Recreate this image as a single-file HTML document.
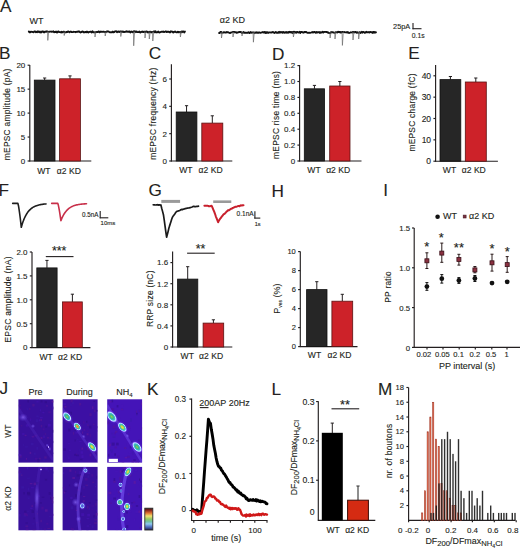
<!DOCTYPE html>
<html><head><meta charset="utf-8"><style>
html,body{margin:0;padding:0;background:#fff;}
svg{display:block;}
svg text{font-family:"Liberation Sans", sans-serif;stroke:#231f20;stroke-width:0.12px;}
</style></head><body>
<svg width="520" height="549" viewBox="0 0 520 549">
<rect x="0" y="0" width="520" height="549" fill="#fff"/>
<text x="0.00" y="12.37" font-size="17.2" text-anchor="start" fill="#231f20" stroke-width="0.6">A</text>
<text x="29.60" y="23.90" font-size="9.00" letter-spacing="0.00" text-anchor="start" fill="#231f20" >WT</text>
<text x="219.80" y="23.00" font-size="9.00" letter-spacing="0.00" text-anchor="start" fill="#231f20" >α2 KD</text>
<path d="M28.80,31.46 L29.50,32.32 L30.20,32.22 L30.90,31.61 L31.60,31.89 L32.30,31.84 L33.00,32.08 L33.70,32.25 L34.40,31.41 L35.10,31.33 L35.80,32.30 L36.50,31.82 L37.20,32.21 L37.90,31.30 L38.60,31.83 L39.30,32.17 L40.00,31.57 L40.70,32.43 L41.40,32.38 L42.10,31.34 L42.80,31.33 L43.50,31.95 L44.20,32.43 L44.90,31.76 L45.60,31.56 L46.30,31.81 L47.00,31.33 L47.70,31.57 L48.40,31.83 L49.10,31.89 L49.80,31.58 L50.50,31.58 L51.20,31.56 L51.90,31.85 L52.60,31.65 L53.30,31.33 L54.00,32.31 L54.70,31.97 L55.40,32.07 L56.10,31.52 L56.80,32.49 L57.50,32.33 L58.20,31.45 L58.90,31.70 L59.60,32.17 L60.30,32.15 L61.00,32.42 L61.70,31.81 L62.40,32.30 L63.10,32.10 L63.80,31.66 L64.50,32.01 L65.20,32.36 L65.90,32.32 L66.60,31.91 L67.30,32.01 L68.00,31.34 L68.70,31.59 L69.40,32.26 L70.10,31.80 L70.80,31.51 L71.50,31.96 L72.20,32.14 L72.90,32.11 L73.60,31.75 L74.30,31.83 L75.00,31.91 L75.70,32.23 L76.40,31.93 L77.10,31.77 L77.80,31.89 L78.50,31.34 L79.20,31.35 L79.90,32.14 L80.60,32.48 L81.30,32.01 L82.00,31.77 L82.70,31.50 L83.40,31.90 L84.10,32.48 L84.80,32.22 L85.50,31.95 L86.20,32.33 L86.90,31.58 L87.60,31.92 L88.30,32.44 L89.00,31.99 L89.70,31.85 L90.40,31.62 L91.10,31.96 L91.80,32.45 L92.50,31.31 L93.20,32.24 L93.90,32.28 L94.60,32.36 L95.30,32.19 L96.00,32.27 L96.70,31.92 L97.40,31.97 L98.10,31.81 L98.80,31.37 L99.50,32.34 L100.20,31.98 L100.90,31.54 L101.60,31.91 L102.30,31.88 L103.00,31.73 L103.70,31.72 L104.40,31.95 L105.10,32.05 L105.80,32.03 L106.50,31.85 L107.20,31.33 L107.90,31.58 L108.60,31.51 L109.30,32.00 L110.00,32.33 L110.70,32.26 L111.40,32.26 L112.10,32.28 L112.80,31.61 L113.50,32.31 L114.20,32.11 L114.90,31.40 L115.60,31.32 L116.30,31.32 L117.00,32.21 L117.70,31.60 L118.40,31.43 L119.10,32.05 L119.80,31.71 L120.50,31.38 L121.20,31.49 L121.90,31.93 L122.60,31.50 L123.30,31.63 L124.00,32.15 L124.70,31.85 L125.40,31.69 L126.10,31.87 L126.80,31.33 L127.50,31.76 L128.20,31.81 L128.90,31.53 L129.60,31.43 L130.30,32.38 L131.00,31.91 L131.70,31.55 L132.40,32.03 L133.10,32.28 L133.80,31.32 L134.50,31.32 L135.20,31.48 L135.90,32.16 L136.60,31.49 L137.30,32.15 L138.00,32.11 L138.70,31.95 L139.40,31.56 L140.10,32.47 L140.80,32.26 L141.50,31.92 L142.20,31.57 L142.90,32.08 L143.60,31.77 L144.30,31.99 L145.00,31.69 L145.70,32.06 L146.40,31.37 L147.10,31.66 L147.80,32.46 L148.50,32.35 L149.20,31.67 L149.90,32.33 L150.60,31.67 L151.30,32.43 L152.00,32.19 L152.70,31.80 L153.40,31.60 L154.10,31.31 L154.80,32.35 L155.50,31.35 L156.20,32.28 L156.90,32.45 L157.60,31.98 L158.30,31.51 L159.00,32.34 L159.70,32.47 L160.40,32.14 L161.10,31.91 L161.80,31.75 L162.50,31.72 L163.20,31.55 L163.90,32.11 L164.60,31.82 L165.30,31.53 L166.00,31.43 L166.70,32.10 L167.40,31.66 L168.10,31.90 L168.80,31.69 L169.50,32.35 L170.20,32.38 L170.90,31.32 L171.60,31.54 L172.30,31.69 L173.00,32.48 L173.70,32.24 L174.40,31.71 L175.10,31.56 L175.80,32.11 L176.50,32.31 L177.20,32.42 L177.90,31.71 L178.60,32.36 L179.30,32.12 L180.00,31.88 L180.70,32.48 L181.40,31.58 L182.10,32.17 L182.80,31.40 L183.50,31.50 L184.20,32.39 L184.90,31.56" fill="none" stroke="#111" stroke-width="1.9" stroke-linejoin="round" stroke-linecap="round" />
<path d="M47.50,31.90 L47.80,40.40 L48.70,31.90" fill="none" stroke="#666" stroke-width="0.8" stroke-linejoin="round" stroke-linecap="round" opacity="0.85"/>
<path d="M63.90,31.90 L64.20,35.50 L65.10,31.90" fill="none" stroke="#666" stroke-width="0.8" stroke-linejoin="round" stroke-linecap="round" opacity="0.85"/>
<path d="M94.70,31.90 L95.00,37.00 L95.90,31.90" fill="none" stroke="#666" stroke-width="0.8" stroke-linejoin="round" stroke-linecap="round" opacity="0.85"/>
<path d="M104.90,31.90 L105.20,36.00 L106.10,31.90" fill="none" stroke="#666" stroke-width="0.8" stroke-linejoin="round" stroke-linecap="round" opacity="0.85"/>
<path d="M120.50,31.90 L120.80,36.50 L121.70,31.90" fill="none" stroke="#666" stroke-width="0.8" stroke-linejoin="round" stroke-linecap="round" opacity="0.85"/>
<path d="M133.40,31.90 L133.70,45.80 L134.60,31.90" fill="none" stroke="#666" stroke-width="0.8" stroke-linejoin="round" stroke-linecap="round" opacity="0.85"/>
<path d="M144.70,31.90 L145.00,38.00 L145.90,31.90" fill="none" stroke="#666" stroke-width="0.8" stroke-linejoin="round" stroke-linecap="round" opacity="0.85"/>
<path d="M149.00,31.90 L149.30,39.00 L150.20,31.90" fill="none" stroke="#666" stroke-width="0.8" stroke-linejoin="round" stroke-linecap="round" opacity="0.85"/>
<path d="M152.50,31.90 L152.80,41.00 L153.70,31.90" fill="none" stroke="#666" stroke-width="0.8" stroke-linejoin="round" stroke-linecap="round" opacity="0.85"/>
<path d="M180.10,31.90 L180.40,37.00 L181.30,31.90" fill="none" stroke="#666" stroke-width="0.8" stroke-linejoin="round" stroke-linecap="round" opacity="0.85"/>
<path d="M219.10,32.95 L219.80,32.94 L220.50,31.87 L221.20,31.90 L221.90,32.80 L222.60,32.68 L223.30,32.60 L224.00,32.17 L224.70,32.53 L225.40,32.53 L226.10,32.50 L226.80,31.99 L227.50,32.32 L228.20,32.27 L228.90,32.67 L229.60,32.99 L230.30,32.94 L231.00,32.45 L231.70,32.33 L232.40,32.12 L233.10,31.84 L233.80,31.83 L234.50,32.36 L235.20,32.18 L235.90,32.26 L236.60,32.87 L237.30,32.43 L238.00,32.47 L238.70,32.08 L239.40,31.83 L240.10,32.19 L240.80,31.96 L241.50,32.41 L242.20,33.00 L242.90,32.61 L243.60,32.02 L244.30,32.87 L245.00,32.76 L245.70,32.68 L246.40,32.89 L247.10,32.72 L247.80,32.75 L248.50,32.22 L249.20,32.98 L249.90,32.95 L250.60,31.99 L251.30,32.70 L252.00,32.66 L252.70,32.35 L253.40,32.44 L254.10,32.39 L254.80,32.91 L255.50,32.40 L256.20,32.80 L256.90,32.22 L257.60,32.86 L258.30,32.88 L259.00,32.35 L259.70,32.48 L260.40,32.90 L261.10,32.67 L261.80,32.38 L262.50,32.07 L263.20,32.19 L263.90,32.64 L264.60,32.00 L265.30,32.89 L266.00,32.12 L266.70,32.89 L267.40,32.17 L268.10,32.95 L268.80,32.65 L269.50,32.41 L270.20,32.42 L270.90,32.58 L271.60,32.51 L272.30,32.17 L273.00,32.05 L273.70,32.41 L274.40,32.92 L275.10,32.55 L275.80,31.89 L276.50,32.78 L277.20,32.67 L277.90,32.89 L278.60,32.03 L279.30,32.69 L280.00,31.87 L280.70,32.58 L281.40,32.13 L282.10,32.07 L282.80,32.85 L283.50,31.93 L284.20,32.43 L284.90,32.82 L285.60,32.09 L286.30,32.05 L287.00,32.86 L287.70,32.31 L288.40,32.66 L289.10,31.84 L289.80,32.23 L290.50,32.01 L291.20,32.61 L291.90,31.90 L292.60,32.95 L293.30,31.83 L294.00,32.68 L294.70,31.83 L295.40,32.11 L296.10,32.78 L296.80,31.99 L297.50,32.02 L298.20,32.63 L298.90,32.26 L299.60,31.85 L300.30,32.99 L301.00,31.98 L301.70,31.84 L302.40,32.21 L303.10,32.54 L303.80,32.69 L304.50,31.94 L305.20,32.20 L305.90,31.84 L306.60,32.34 L307.30,32.72 L308.00,32.69 L308.70,32.88 L309.40,32.71 L310.10,32.83 L310.80,32.65 L311.50,32.37 L312.20,32.07 L312.90,32.59 L313.60,32.18 L314.30,31.92 L315.00,32.34 L315.70,32.85 L316.40,31.95 L317.10,32.50 L317.80,32.27 L318.50,32.42 L319.20,31.97 L319.90,32.95 L320.60,32.11 L321.30,32.53 L322.00,32.30 L322.70,31.82 L323.40,32.47 L324.10,31.97 L324.80,31.87 L325.50,31.84 L326.20,31.99 L326.90,31.92 L327.60,32.56 L328.30,32.41 L329.00,32.98 L329.70,32.92 L330.40,32.99 L331.10,32.08 L331.80,32.33 L332.50,32.10 L333.20,32.51 L333.90,32.55 L334.60,32.76 L335.30,32.65 L336.00,32.11 L336.70,32.31 L337.40,32.43 L338.10,31.81 L338.80,31.84 L339.50,32.29 L340.20,31.93 L340.90,32.67 L341.60,32.09 L342.30,31.92 L343.00,32.02 L343.70,32.08 L344.40,32.06 L345.10,32.42 L345.80,32.36 L346.50,32.17 L347.20,32.57 L347.90,32.05 L348.60,32.89 L349.30,32.96 L350.00,32.67 L350.70,32.32 L351.40,32.41 L352.10,32.50 L352.80,31.86 L353.50,32.30 L354.20,32.43 L354.90,32.02 L355.60,31.91 L356.30,32.76 L357.00,32.24 L357.70,32.42 L358.40,32.91 L359.10,32.53 L359.80,32.15 L360.50,32.98 L361.20,32.25 L361.90,31.82 L362.60,32.62 L363.30,31.92 L364.00,32.17 L364.70,32.81 L365.40,32.61 L366.10,31.82 L366.80,32.34 L367.50,32.29 L368.20,32.38 L368.90,32.05 L369.60,32.51 L370.30,31.89 L371.00,32.14 L371.70,32.25 L372.40,32.92 L373.10,31.89 L373.80,32.71 L374.50,32.03 L375.20,32.49 L375.90,32.27" fill="none" stroke="#111" stroke-width="1.9" stroke-linejoin="round" stroke-linecap="round" />
<path d="M221.20,32.40 L221.50,38.00 L222.40,32.40" fill="none" stroke="#666" stroke-width="0.8" stroke-linejoin="round" stroke-linecap="round" opacity="0.85"/>
<path d="M232.70,32.40 L233.00,37.00 L233.90,32.40" fill="none" stroke="#666" stroke-width="0.8" stroke-linejoin="round" stroke-linecap="round" opacity="0.85"/>
<path d="M241.70,32.40 L242.00,36.00 L242.90,32.40" fill="none" stroke="#666" stroke-width="0.8" stroke-linejoin="round" stroke-linecap="round" opacity="0.85"/>
<path d="M253.10,32.40 L253.40,42.20 L254.30,32.40" fill="none" stroke="#666" stroke-width="0.8" stroke-linejoin="round" stroke-linecap="round" opacity="0.85"/>
<path d="M293.10,32.40 L293.40,37.00 L294.30,32.40" fill="none" stroke="#666" stroke-width="0.8" stroke-linejoin="round" stroke-linecap="round" opacity="0.85"/>
<path d="M329.80,32.40 L330.10,38.00 L331.00,32.40" fill="none" stroke="#666" stroke-width="0.8" stroke-linejoin="round" stroke-linecap="round" opacity="0.85"/>
<path d="M334.70,32.40 L335.00,39.00 L335.90,32.40" fill="none" stroke="#666" stroke-width="0.8" stroke-linejoin="round" stroke-linecap="round" opacity="0.85"/>
<path d="M342.10,32.40 L342.40,45.40 L343.30,32.40" fill="none" stroke="#666" stroke-width="0.8" stroke-linejoin="round" stroke-linecap="round" opacity="0.85"/>
<path d="M352.70,32.40 L353.00,40.00 L353.90,32.40" fill="none" stroke="#666" stroke-width="0.8" stroke-linejoin="round" stroke-linecap="round" opacity="0.85"/>
<path d="M358.40,32.40 L358.70,39.00 L359.60,32.40" fill="none" stroke="#666" stroke-width="0.8" stroke-linejoin="round" stroke-linecap="round" opacity="0.85"/>
<line x1="413.00" y1="23.00" x2="413.00" y2="29.20" stroke="#231f20" stroke-width="1.1" />
<line x1="412.50" y1="28.70" x2="421.50" y2="28.70" stroke="#231f20" stroke-width="1.1" />
<text x="410.30" y="28.60" font-size="7.40" letter-spacing="0.00" text-anchor="end" fill="#231f20" >25pA</text>
<text x="411.80" y="38.00" font-size="6.80" letter-spacing="0.00" text-anchor="start" fill="#231f20" >0.1s</text>
<text x="-1.10" y="59.28" font-size="17.2" text-anchor="start" fill="#231f20" stroke-width="0.6">B</text>
<text x="148.85" y="59.42" font-size="17.2" text-anchor="start" fill="#231f20" stroke-width="0.6">C</text>
<text x="272.10" y="59.57" font-size="17.2" text-anchor="start" fill="#231f20" stroke-width="0.6">D</text>
<text x="408.30" y="59.37" font-size="17.2" text-anchor="start" fill="#231f20" stroke-width="0.6">E</text>
<line x1="29.80" y1="65.00" x2="29.80" y2="161.50" stroke="#231f20" stroke-width="1.15" />
<line x1="29.30" y1="161.00" x2="91.30" y2="161.00" stroke="#231f20" stroke-width="1.15" />
<line x1="27.60" y1="161.00" x2="29.80" y2="161.00" stroke="#231f20" stroke-width="1.15" />
<text x="25.30" y="163.88" font-size="8.00" letter-spacing="0.00" text-anchor="end" fill="#231f20" >0</text>
<line x1="27.60" y1="137.05" x2="29.80" y2="137.05" stroke="#231f20" stroke-width="1.15" />
<text x="25.30" y="139.93" font-size="8.00" letter-spacing="0.00" text-anchor="end" fill="#231f20" >5</text>
<line x1="27.60" y1="113.10" x2="29.80" y2="113.10" stroke="#231f20" stroke-width="1.15" />
<text x="25.30" y="115.98" font-size="8.00" letter-spacing="0.00" text-anchor="end" fill="#231f20" >10</text>
<line x1="27.60" y1="89.15" x2="29.80" y2="89.15" stroke="#231f20" stroke-width="1.15" />
<text x="25.30" y="92.03" font-size="8.00" letter-spacing="0.00" text-anchor="end" fill="#231f20" >15</text>
<line x1="27.60" y1="65.20" x2="29.80" y2="65.20" stroke="#231f20" stroke-width="1.15" />
<text x="25.30" y="68.08" font-size="8.00" letter-spacing="0.00" text-anchor="end" fill="#231f20" >20</text>
<line x1="44.65" y1="78.00" x2="44.65" y2="80.10" stroke="#231f20" stroke-width="1" />
<line x1="43.05" y1="78.00" x2="46.25" y2="78.00" stroke="#231f20" stroke-width="1" />
<rect x="34.30" y="80.10" width="20.70" height="80.90" fill="#262626" stroke="#111" stroke-width="0.8" />
<line x1="70.00" y1="75.90" x2="70.00" y2="78.80" stroke="#231f20" stroke-width="1" />
<line x1="68.40" y1="75.90" x2="71.60" y2="75.90" stroke="#231f20" stroke-width="1" />
<rect x="59.60" y="78.80" width="20.80" height="82.20" fill="#cd2229" stroke="#5a1212" stroke-width="0.8" />
<g transform="translate(9.70,114.40) rotate(-90)"><text x="0.14" y="0" font-size="8.37" letter-spacing="0.27" text-anchor="middle" fill="#231f20">mEPSC amplitude (pA)</text></g>
<text x="43.95" y="173.70" font-size="8.6" text-anchor="middle" fill="#231f20" >WT</text>
<text x="68.90" y="173.70" font-size="8.6" text-anchor="middle" fill="#231f20" >α2 KD</text>
<line x1="171.40" y1="64.20" x2="171.40" y2="161.50" stroke="#231f20" stroke-width="1.15" />
<line x1="170.90" y1="161.00" x2="232.30" y2="161.00" stroke="#231f20" stroke-width="1.15" />
<line x1="169.20" y1="161.00" x2="171.40" y2="161.00" stroke="#231f20" stroke-width="1.15" />
<text x="166.90" y="163.88" font-size="8.00" letter-spacing="0.00" text-anchor="end" fill="#231f20" >0</text>
<line x1="169.20" y1="133.67" x2="171.40" y2="133.67" stroke="#231f20" stroke-width="1.15" />
<text x="166.90" y="136.55" font-size="8.00" letter-spacing="0.00" text-anchor="end" fill="#231f20" >2</text>
<line x1="169.20" y1="106.33" x2="171.40" y2="106.33" stroke="#231f20" stroke-width="1.15" />
<text x="166.90" y="109.21" font-size="8.00" letter-spacing="0.00" text-anchor="end" fill="#231f20" >4</text>
<line x1="169.20" y1="79.00" x2="171.40" y2="79.00" stroke="#231f20" stroke-width="1.15" />
<text x="166.90" y="81.88" font-size="8.00" letter-spacing="0.00" text-anchor="end" fill="#231f20" >6</text>
<line x1="186.55" y1="105.70" x2="186.55" y2="112.00" stroke="#231f20" stroke-width="1" />
<line x1="184.95" y1="105.70" x2="188.15" y2="105.70" stroke="#231f20" stroke-width="1" />
<rect x="176.20" y="112.00" width="20.70" height="49.00" fill="#262626" stroke="#111" stroke-width="0.8" />
<line x1="212.30" y1="115.80" x2="212.30" y2="123.10" stroke="#231f20" stroke-width="1" />
<line x1="210.70" y1="115.80" x2="213.90" y2="115.80" stroke="#231f20" stroke-width="1" />
<rect x="201.80" y="123.10" width="21.00" height="37.90" fill="#cd2229" stroke="#5a1212" stroke-width="0.8" />
<g transform="translate(155.90,113.80) rotate(-90)"><text x="0.14" y="0" font-size="8.37" letter-spacing="0.27" text-anchor="middle" fill="#231f20">mEPSC frequency (Hz)</text></g>
<text x="185.85" y="173.00" font-size="8.6" text-anchor="middle" fill="#231f20" >WT</text>
<text x="210.65" y="173.00" font-size="8.6" text-anchor="middle" fill="#231f20" >α2 KD</text>
<line x1="299.60" y1="65.00" x2="299.60" y2="161.50" stroke="#231f20" stroke-width="1.15" />
<line x1="299.10" y1="161.00" x2="361.50" y2="161.00" stroke="#231f20" stroke-width="1.15" />
<line x1="297.40" y1="161.00" x2="299.60" y2="161.00" stroke="#231f20" stroke-width="1.15" />
<text x="295.10" y="163.88" font-size="8.00" letter-spacing="0.00" text-anchor="end" fill="#231f20" >0</text>
<line x1="297.40" y1="145.10" x2="299.60" y2="145.10" stroke="#231f20" stroke-width="1.15" />
<text x="295.10" y="147.98" font-size="8.00" letter-spacing="0.00" text-anchor="end" fill="#231f20" >0.2</text>
<line x1="297.40" y1="129.20" x2="299.60" y2="129.20" stroke="#231f20" stroke-width="1.15" />
<text x="295.10" y="132.08" font-size="8.00" letter-spacing="0.00" text-anchor="end" fill="#231f20" >0.4</text>
<line x1="297.40" y1="113.30" x2="299.60" y2="113.30" stroke="#231f20" stroke-width="1.15" />
<text x="295.10" y="116.18" font-size="8.00" letter-spacing="0.00" text-anchor="end" fill="#231f20" >0.6</text>
<line x1="297.40" y1="97.40" x2="299.60" y2="97.40" stroke="#231f20" stroke-width="1.15" />
<text x="295.10" y="100.28" font-size="8.00" letter-spacing="0.00" text-anchor="end" fill="#231f20" >0.8</text>
<line x1="297.40" y1="81.50" x2="299.60" y2="81.50" stroke="#231f20" stroke-width="1.15" />
<text x="295.10" y="84.38" font-size="8.00" letter-spacing="0.00" text-anchor="end" fill="#231f20" >1.0</text>
<line x1="297.40" y1="65.60" x2="299.60" y2="65.60" stroke="#231f20" stroke-width="1.15" />
<text x="295.10" y="68.48" font-size="8.00" letter-spacing="0.00" text-anchor="end" fill="#231f20" >1.2</text>
<line x1="314.45" y1="85.40" x2="314.45" y2="88.80" stroke="#231f20" stroke-width="1" />
<line x1="312.85" y1="85.40" x2="316.05" y2="85.40" stroke="#231f20" stroke-width="1" />
<rect x="304.30" y="88.80" width="20.30" height="72.20" fill="#262626" stroke="#111" stroke-width="0.8" />
<line x1="339.85" y1="81.50" x2="339.85" y2="86.00" stroke="#231f20" stroke-width="1" />
<line x1="338.25" y1="81.50" x2="341.45" y2="81.50" stroke="#231f20" stroke-width="1" />
<rect x="329.70" y="86.00" width="20.30" height="75.00" fill="#cd2229" stroke="#5a1212" stroke-width="0.8" />
<g transform="translate(278.90,115.00) rotate(-90)"><text x="0.14" y="0" font-size="8.37" letter-spacing="0.27" text-anchor="middle" fill="#231f20">mEPSC rise time (ms)</text></g>
<text x="314.00" y="173.00" font-size="8.6" text-anchor="middle" fill="#231f20" >WT</text>
<text x="338.20" y="173.00" font-size="8.6" text-anchor="middle" fill="#231f20" >α2 KD</text>
<line x1="435.60" y1="65.00" x2="435.60" y2="161.70" stroke="#231f20" stroke-width="1.15" />
<line x1="435.10" y1="161.20" x2="497.90" y2="161.20" stroke="#231f20" stroke-width="1.15" />
<line x1="433.40" y1="161.20" x2="435.60" y2="161.20" stroke="#231f20" stroke-width="1.15" />
<text x="431.10" y="164.26" font-size="8.50" letter-spacing="0.00" text-anchor="end" fill="#231f20" >0</text>
<line x1="433.40" y1="139.85" x2="435.60" y2="139.85" stroke="#231f20" stroke-width="1.15" />
<text x="431.10" y="142.91" font-size="8.50" letter-spacing="0.00" text-anchor="end" fill="#231f20" >10</text>
<line x1="433.40" y1="118.50" x2="435.60" y2="118.50" stroke="#231f20" stroke-width="1.15" />
<text x="431.10" y="121.56" font-size="8.50" letter-spacing="0.00" text-anchor="end" fill="#231f20" >20</text>
<line x1="433.40" y1="97.15" x2="435.60" y2="97.15" stroke="#231f20" stroke-width="1.15" />
<text x="431.10" y="100.21" font-size="8.50" letter-spacing="0.00" text-anchor="end" fill="#231f20" >30</text>
<line x1="433.40" y1="75.80" x2="435.60" y2="75.80" stroke="#231f20" stroke-width="1.15" />
<text x="431.10" y="78.86" font-size="8.50" letter-spacing="0.00" text-anchor="end" fill="#231f20" >40</text>
<line x1="450.40" y1="76.50" x2="450.40" y2="79.60" stroke="#231f20" stroke-width="1" />
<line x1="448.80" y1="76.50" x2="452.00" y2="76.50" stroke="#231f20" stroke-width="1" />
<rect x="440.00" y="79.60" width="20.80" height="81.60" fill="#262626" stroke="#111" stroke-width="0.8" />
<line x1="475.80" y1="78.00" x2="475.80" y2="82.00" stroke="#231f20" stroke-width="1" />
<line x1="474.20" y1="78.00" x2="477.40" y2="78.00" stroke="#231f20" stroke-width="1" />
<rect x="465.30" y="82.00" width="21.00" height="79.20" fill="#cd2229" stroke="#5a1212" stroke-width="0.8" />
<g transform="translate(415.00,112.50) rotate(-90)"><text x="0.14" y="0" font-size="8.37" letter-spacing="0.27" text-anchor="middle" fill="#231f20">mEPSC charge (fC)</text></g>
<text x="449.50" y="173.00" font-size="8.6" text-anchor="middle" fill="#231f20" >WT</text>
<text x="473.80" y="173.00" font-size="8.6" text-anchor="middle" fill="#231f20" >α2 KD</text>
<text x="-1.5" y="196.47" font-size="17.2" fill="#231f20" stroke-width="1.0">F</text>
<text x="148.56" y="196.02" font-size="17.2" text-anchor="start" fill="#231f20" stroke-width="0.6">G</text>
<text x="271.50" y="196.67" font-size="17.2" text-anchor="start" fill="#231f20" stroke-width="0.6">H</text>
<text x="383.15" y="196.47" font-size="17.2" text-anchor="start" fill="#231f20" stroke-width="0.6">I</text>
<path d="M12.70,203.40 L17.90,203.40 L18.47,205.73 L19.03,209.13 L19.60,213.11 L20.17,217.51 L20.73,222.26 L21.30,227.30 L22.10,224.53 L22.90,222.09 L23.70,219.92 L24.50,218.01 L25.30,216.32 L26.10,214.82 L26.90,213.50 L27.70,212.33 L28.50,211.29 L29.30,210.38 L30.10,209.57 L30.90,208.86 L31.70,208.23 L32.50,207.67 L33.30,207.17 L34.10,206.74 L34.90,206.35 L35.70,206.01 L36.50,205.71 L37.30,205.44 L38.10,205.20 L38.90,204.99 L39.70,204.81 L40.50,204.65 L41.30,204.50 L42.10,204.37 L42.90,204.26 L43.70,204.16 L44.50,204.07 L45.30,204.00 L46.10,203.93" fill="none" stroke="#1e1e1e" stroke-width="1.6" stroke-linejoin="round" stroke-linecap="round" />
<path d="M51.70,203.40 L57.80,203.40 L58.32,205.08 L58.83,207.55 L59.35,210.43 L59.87,213.61 L60.38,217.05 L60.90,220.70 L61.70,218.70 L62.50,216.93 L63.30,215.36 L64.10,213.97 L64.90,212.75 L65.70,211.67 L66.50,210.71 L67.30,209.86 L68.10,209.11 L68.90,208.45 L69.70,207.87 L70.50,207.35 L71.30,206.89 L72.10,206.49 L72.90,206.13 L73.70,205.81 L74.50,205.53 L75.30,205.29 L76.10,205.07 L76.90,204.88 L77.70,204.70 L78.50,204.55 L79.30,204.42 L80.10,204.30 L80.90,204.20 L81.70,204.11 L82.50,204.02 L83.30,203.95 L84.10,203.89 L84.90,203.83 L85.70,203.78 L86.50,203.74" fill="none" stroke="#c8304a" stroke-width="1.6" stroke-linejoin="round" stroke-linecap="round" />
<line x1="100.20" y1="210.90" x2="100.20" y2="218.30" stroke="#231f20" stroke-width="1.1" />
<line x1="99.70" y1="217.80" x2="108.30" y2="217.80" stroke="#231f20" stroke-width="1.1" />
<text x="98.40" y="216.60" font-size="6.30" letter-spacing="0.00" text-anchor="end" fill="#231f20" >0.5nA</text>
<text x="100.60" y="225.00" font-size="6.00" letter-spacing="0.00" text-anchor="start" fill="#231f20" >10ms</text>
<line x1="32.00" y1="252.00" x2="32.00" y2="348.10" stroke="#231f20" stroke-width="1.15" />
<line x1="31.50" y1="347.60" x2="90.40" y2="347.60" stroke="#231f20" stroke-width="1.15" />
<line x1="29.80" y1="347.60" x2="32.00" y2="347.60" stroke="#231f20" stroke-width="1.15" />
<text x="27.50" y="350.48" font-size="8.00" letter-spacing="0.00" text-anchor="end" fill="#231f20" >0</text>
<line x1="29.80" y1="323.70" x2="32.00" y2="323.70" stroke="#231f20" stroke-width="1.15" />
<text x="27.50" y="326.58" font-size="8.00" letter-spacing="0.00" text-anchor="end" fill="#231f20" >0.5</text>
<line x1="29.80" y1="299.80" x2="32.00" y2="299.80" stroke="#231f20" stroke-width="1.15" />
<text x="27.50" y="302.68" font-size="8.00" letter-spacing="0.00" text-anchor="end" fill="#231f20" >1.0</text>
<line x1="29.80" y1="275.90" x2="32.00" y2="275.90" stroke="#231f20" stroke-width="1.15" />
<text x="27.50" y="278.78" font-size="8.00" letter-spacing="0.00" text-anchor="end" fill="#231f20" >1.5</text>
<line x1="29.80" y1="252.00" x2="32.00" y2="252.00" stroke="#231f20" stroke-width="1.15" />
<text x="27.50" y="254.88" font-size="8.00" letter-spacing="0.00" text-anchor="end" fill="#231f20" >2.0</text>
<line x1="46.95" y1="260.40" x2="46.95" y2="267.90" stroke="#231f20" stroke-width="1" />
<line x1="45.35" y1="260.40" x2="48.55" y2="260.40" stroke="#231f20" stroke-width="1" />
<rect x="36.80" y="267.90" width="20.30" height="79.70" fill="#262626" stroke="#111" stroke-width="0.8" />
<line x1="72.40" y1="294.20" x2="72.40" y2="301.90" stroke="#231f20" stroke-width="1" />
<line x1="70.80" y1="294.20" x2="74.00" y2="294.20" stroke="#231f20" stroke-width="1" />
<rect x="62.50" y="301.90" width="19.80" height="45.70" fill="#cd2229" stroke="#5a1212" stroke-width="0.8" />
<g transform="translate(11.30,299.60) rotate(-90)"><text x="0.14" y="0" font-size="8.56" letter-spacing="0.28" text-anchor="middle" fill="#231f20">EPSC amplitude (nA)</text></g>
<text x="46.15" y="359.50" font-size="8.6" text-anchor="middle" fill="#231f20" >WT</text>
<text x="70.10" y="359.50" font-size="8.6" text-anchor="middle" fill="#231f20" >α2 KD</text>
<line x1="45.80" y1="256.60" x2="73.50" y2="256.60" stroke="#231f20" stroke-width="1.1" />
<text x="59.20" y="254.60" font-size="12.5" text-anchor="middle" fill="#231f20" stroke-width="0.55">***</text>
<rect x="161.30" y="199.90" width="18.80" height="3.00" fill="#9a9a9a" stroke="none" stroke-width="0" />
<rect x="213.20" y="200.40" width="18.10" height="2.60" fill="#9a9a9a" stroke="none" stroke-width="0" />
<path d="M153.20,204.77 L153.90,204.93 L154.60,204.85 L155.30,204.98 L156.00,205.00 L156.70,204.73 L157.40,204.71 L158.10,205.13 L158.80,204.85 L159.50,204.85 L160.20,205.24 L160.90,204.99 L161.77,208.50 L162.63,211.65 L163.50,215.07 L164.28,220.38 L165.05,226.17 L165.82,231.83 L166.60,237.21 L167.32,234.52 L168.05,231.69 L168.78,228.58 L169.50,226.13 L170.25,223.80 L171.00,221.40 L171.75,219.02 L172.50,217.18 L173.26,215.91 L174.02,214.95 L174.78,213.95 L175.54,212.79 L176.30,211.81 L177.01,211.28 L177.73,211.23 L178.44,210.78 L179.15,210.77 L179.86,210.48 L180.57,209.82 L181.29,209.58 L182.00,209.36 L182.71,209.56 L183.42,209.12 L184.13,209.05 L184.84,208.71 L185.55,208.64 L186.25,208.41 L186.96,208.22 L187.67,208.16 L188.38,207.99 L189.09,207.97 L189.80,207.69 L190.60,207.54 L191.40,207.23 L192.20,207.02 L193.00,206.59 L193.79,206.29 L194.57,206.59 L195.36,206.60 L196.14,206.53 L196.93,206.32 L197.71,206.35 L198.50,206.20" fill="none" stroke="#1a1a1a" stroke-width="1.7" stroke-linejoin="round" stroke-linecap="round" />
<path d="M204.40,205.72 L205.14,205.63 L205.88,205.85 L206.62,205.69 L207.36,205.64 L208.10,205.88 L208.84,206.25 L209.58,206.18 L210.32,206.17 L211.06,205.80 L211.80,206.03 L212.60,207.84 L213.40,209.77 L214.20,211.72 L215.00,213.80 L215.78,216.30 L216.55,218.23 L217.32,220.21 L218.10,222.21 L218.88,220.59 L219.66,219.47 L220.44,218.49 L221.22,217.36 L222.00,216.25 L222.75,215.58 L223.50,214.34 L224.25,214.01 L225.00,213.37 L225.75,212.57 L226.50,211.65 L227.25,211.17 L228.00,210.21 L228.75,210.39 L229.50,209.93 L230.25,209.30 L231.00,208.71 L231.75,208.72 L232.50,208.08 L233.25,207.88 L234.00,207.44 L234.80,207.03 L235.60,206.78 L236.40,206.73 L237.20,206.43 L238.00,206.06 L238.79,206.01 L239.57,206.20 L240.36,205.51 L241.14,205.35 L241.93,205.60 L242.71,205.20 L243.50,205.20" fill="none" stroke="#c8202d" stroke-width="2.0" stroke-linejoin="round" stroke-linecap="round" />
<line x1="254.90" y1="211.20" x2="254.90" y2="218.60" stroke="#231f20" stroke-width="1.1" />
<line x1="254.40" y1="218.10" x2="260.30" y2="218.10" stroke="#231f20" stroke-width="1.1" />
<text x="253.60" y="216.30" font-size="6.50" letter-spacing="0.00" text-anchor="end" fill="#231f20" >0.1nA</text>
<text x="254.80" y="225.50" font-size="5.50" letter-spacing="0.00" text-anchor="start" fill="#231f20" >1s</text>
<line x1="172.60" y1="251.40" x2="172.60" y2="347.50" stroke="#231f20" stroke-width="1.15" />
<line x1="172.10" y1="347.00" x2="232.30" y2="347.00" stroke="#231f20" stroke-width="1.15" />
<line x1="170.40" y1="347.00" x2="172.60" y2="347.00" stroke="#231f20" stroke-width="1.15" />
<text x="168.10" y="349.88" font-size="8.00" letter-spacing="0.00" text-anchor="end" fill="#231f20" >0</text>
<line x1="170.40" y1="325.90" x2="172.60" y2="325.90" stroke="#231f20" stroke-width="1.15" />
<text x="168.10" y="328.78" font-size="8.00" letter-spacing="0.00" text-anchor="end" fill="#231f20" >0.4</text>
<line x1="170.40" y1="304.80" x2="172.60" y2="304.80" stroke="#231f20" stroke-width="1.15" />
<text x="168.10" y="307.68" font-size="8.00" letter-spacing="0.00" text-anchor="end" fill="#231f20" >0.8</text>
<line x1="170.40" y1="283.70" x2="172.60" y2="283.70" stroke="#231f20" stroke-width="1.15" />
<text x="168.10" y="286.58" font-size="8.00" letter-spacing="0.00" text-anchor="end" fill="#231f20" >1.2</text>
<line x1="170.40" y1="262.60" x2="172.60" y2="262.60" stroke="#231f20" stroke-width="1.15" />
<text x="168.10" y="265.48" font-size="8.00" letter-spacing="0.00" text-anchor="end" fill="#231f20" >1.6</text>
<line x1="187.70" y1="266.70" x2="187.70" y2="279.10" stroke="#231f20" stroke-width="1" />
<line x1="186.10" y1="266.70" x2="189.30" y2="266.70" stroke="#231f20" stroke-width="1" />
<rect x="177.60" y="279.10" width="20.20" height="67.90" fill="#262626" stroke="#111" stroke-width="0.8" />
<line x1="213.40" y1="319.80" x2="213.40" y2="323.10" stroke="#231f20" stroke-width="1" />
<line x1="211.80" y1="319.80" x2="215.00" y2="319.80" stroke="#231f20" stroke-width="1" />
<rect x="203.10" y="323.10" width="20.60" height="23.90" fill="#cd2229" stroke="#5a1212" stroke-width="0.8" />
<g transform="translate(152.90,298.80) rotate(-90)"><text x="0.14" y="0" font-size="8.37" letter-spacing="0.27" text-anchor="middle" fill="#231f20">RRP size (nC)</text></g>
<text x="187.30" y="359.10" font-size="8.6" text-anchor="middle" fill="#231f20" >WT</text>
<text x="211.15" y="359.10" font-size="8.6" text-anchor="middle" fill="#231f20" >α2 KD</text>
<line x1="187.10" y1="253.20" x2="214.70" y2="253.20" stroke="#231f20" stroke-width="1.1" />
<text x="200.60" y="252.60" font-size="12.5" text-anchor="middle" fill="#231f20" stroke-width="0.55">**</text>
<line x1="300.30" y1="251.60" x2="300.30" y2="347.10" stroke="#231f20" stroke-width="1.15" />
<line x1="299.80" y1="346.60" x2="357.50" y2="346.60" stroke="#231f20" stroke-width="1.15" />
<line x1="298.10" y1="346.60" x2="300.30" y2="346.60" stroke="#231f20" stroke-width="1.15" />
<text x="295.80" y="349.30" font-size="7.50" letter-spacing="0.00" text-anchor="end" fill="#231f20" >0</text>
<line x1="298.10" y1="327.60" x2="300.30" y2="327.60" stroke="#231f20" stroke-width="1.15" />
<text x="295.80" y="330.30" font-size="7.50" letter-spacing="0.00" text-anchor="end" fill="#231f20" >2</text>
<line x1="298.10" y1="308.60" x2="300.30" y2="308.60" stroke="#231f20" stroke-width="1.15" />
<text x="295.80" y="311.30" font-size="7.50" letter-spacing="0.00" text-anchor="end" fill="#231f20" >4</text>
<line x1="298.10" y1="289.60" x2="300.30" y2="289.60" stroke="#231f20" stroke-width="1.15" />
<text x="295.80" y="292.30" font-size="7.50" letter-spacing="0.00" text-anchor="end" fill="#231f20" >6</text>
<line x1="298.10" y1="270.60" x2="300.30" y2="270.60" stroke="#231f20" stroke-width="1.15" />
<text x="295.80" y="273.30" font-size="7.50" letter-spacing="0.00" text-anchor="end" fill="#231f20" >8</text>
<line x1="298.10" y1="251.60" x2="300.30" y2="251.60" stroke="#231f20" stroke-width="1.15" />
<text x="295.80" y="254.30" font-size="7.50" letter-spacing="0.00" text-anchor="end" fill="#231f20" >10</text>
<line x1="316.80" y1="281.70" x2="316.80" y2="289.60" stroke="#231f20" stroke-width="1" />
<line x1="315.20" y1="281.70" x2="318.40" y2="281.70" stroke="#231f20" stroke-width="1" />
<rect x="306.60" y="289.60" width="20.40" height="57.00" fill="#262626" stroke="#111" stroke-width="0.8" />
<line x1="342.30" y1="294.30" x2="342.30" y2="301.20" stroke="#231f20" stroke-width="1" />
<line x1="340.70" y1="294.30" x2="343.90" y2="294.30" stroke="#231f20" stroke-width="1" />
<rect x="331.90" y="301.20" width="20.80" height="45.40" fill="#cd2229" stroke="#5a1212" stroke-width="0.8" />
<text transform="translate(279.6,313.7) rotate(-90)" font-size="9" fill="#231f20">P<tspan font-size="5" dy="2.5">ves</tspan><tspan dy="-2.5"> (%)</tspan></text>
<text x="314.50" y="358.40" font-size="8.6" text-anchor="middle" fill="#231f20" >WT</text>
<text x="339.50" y="358.40" font-size="8.6" text-anchor="middle" fill="#231f20" >α2 KD</text>
<line x1="414.20" y1="228.00" x2="414.20" y2="347.90" stroke="#231f20" stroke-width="1.15" />
<line x1="413.70" y1="347.40" x2="520.00" y2="347.40" stroke="#231f20" stroke-width="1.15" />
<line x1="412.00" y1="347.40" x2="414.20" y2="347.40" stroke="#231f20" stroke-width="1.15" />
<text x="410.20" y="350.60" font-size="7.80" letter-spacing="0.00" text-anchor="end" fill="#231f20" >0</text>
<line x1="412.00" y1="307.60" x2="414.20" y2="307.60" stroke="#231f20" stroke-width="1.15" />
<text x="410.20" y="310.80" font-size="7.80" letter-spacing="0.00" text-anchor="end" fill="#231f20" >0.5</text>
<line x1="412.00" y1="267.80" x2="414.20" y2="267.80" stroke="#231f20" stroke-width="1.15" />
<text x="410.20" y="271.00" font-size="7.80" letter-spacing="0.00" text-anchor="end" fill="#231f20" >1.0</text>
<line x1="412.00" y1="228.00" x2="414.20" y2="228.00" stroke="#231f20" stroke-width="1.15" />
<text x="410.20" y="231.20" font-size="7.80" letter-spacing="0.00" text-anchor="end" fill="#231f20" >1.5</text>
<line x1="427.00" y1="347.40" x2="427.00" y2="349.60" stroke="#231f20" stroke-width="1.15" />
<text x="423.90" y="357.40" font-size="7.60" letter-spacing="0.00" text-anchor="middle" fill="#231f20" >0.02</text>
<line x1="443.00" y1="347.40" x2="443.00" y2="349.60" stroke="#231f20" stroke-width="1.15" />
<text x="442.40" y="357.40" font-size="7.60" letter-spacing="0.00" text-anchor="middle" fill="#231f20" >0.05</text>
<line x1="459.20" y1="347.40" x2="459.20" y2="349.60" stroke="#231f20" stroke-width="1.15" />
<text x="458.60" y="357.40" font-size="7.60" letter-spacing="0.00" text-anchor="middle" fill="#231f20" >0.1</text>
<line x1="475.30" y1="347.40" x2="475.30" y2="349.60" stroke="#231f20" stroke-width="1.15" />
<text x="474.90" y="357.40" font-size="7.60" letter-spacing="0.00" text-anchor="middle" fill="#231f20" >0.2</text>
<line x1="491.80" y1="347.40" x2="491.80" y2="349.60" stroke="#231f20" stroke-width="1.15" />
<text x="491.00" y="357.40" font-size="7.60" letter-spacing="0.00" text-anchor="middle" fill="#231f20" >0.5</text>
<line x1="507.00" y1="347.40" x2="507.00" y2="349.60" stroke="#231f20" stroke-width="1.15" />
<text x="506.50" y="357.40" font-size="7.60" letter-spacing="0.00" text-anchor="middle" fill="#231f20" >1</text>
<text x="467.20" y="369.00" font-size="9.00" letter-spacing="0.00" text-anchor="middle" fill="#231f20" >PP interval (s)</text>
<g transform="translate(390.60,287.00) rotate(-90)"><text x="0.14" y="0" font-size="8.37" letter-spacing="0.27" text-anchor="middle" fill="#231f20">PP ratio</text></g>
<circle cx="437.6" cy="216.8" r="2.3" fill="#111"/>
<text x="443.00" y="219.10" font-size="9.00" letter-spacing="0.00" text-anchor="start" fill="#231f20" >WT</text>
<rect x="463.20" y="215.10" width="2.90" height="2.90" fill="#7a3040" stroke="#4a1a24" stroke-width="0.6" />
<text x="469.00" y="219.10" font-size="9.00" letter-spacing="0.00" text-anchor="start" fill="#231f20" >α2 KD</text>
<line x1="426.90" y1="282.60" x2="426.90" y2="290.30" stroke="#111" stroke-width="1.0" />
<line x1="425.40" y1="282.60" x2="428.40" y2="282.60" stroke="#111" stroke-width="1.0" />
<line x1="425.40" y1="290.30" x2="428.40" y2="290.30" stroke="#111" stroke-width="1.0" />
<circle cx="426.9" cy="286.6" r="2.4" fill="#111"/>
<line x1="441.80" y1="274.60" x2="441.80" y2="283.10" stroke="#111" stroke-width="1.0" />
<line x1="440.30" y1="274.60" x2="443.30" y2="274.60" stroke="#111" stroke-width="1.0" />
<line x1="440.30" y1="283.10" x2="443.30" y2="283.10" stroke="#111" stroke-width="1.0" />
<circle cx="441.8" cy="278.7" r="2.4" fill="#111"/>
<line x1="458.90" y1="277.60" x2="458.90" y2="283.40" stroke="#111" stroke-width="1.0" />
<line x1="457.40" y1="277.60" x2="460.40" y2="277.60" stroke="#111" stroke-width="1.0" />
<line x1="457.40" y1="283.40" x2="460.40" y2="283.40" stroke="#111" stroke-width="1.0" />
<circle cx="458.9" cy="280.5" r="2.4" fill="#111"/>
<line x1="474.90" y1="275.50" x2="474.90" y2="281.50" stroke="#111" stroke-width="1.0" />
<line x1="473.40" y1="275.50" x2="476.40" y2="275.50" stroke="#111" stroke-width="1.0" />
<line x1="473.40" y1="281.50" x2="476.40" y2="281.50" stroke="#111" stroke-width="1.0" />
<circle cx="474.9" cy="278.5" r="2.4" fill="#111"/>
<circle cx="492.0" cy="283.1" r="2.4" fill="#111"/>
<line x1="507.20" y1="280.50" x2="507.20" y2="283.00" stroke="#111" stroke-width="1.0" />
<line x1="505.70" y1="280.50" x2="508.70" y2="280.50" stroke="#111" stroke-width="1.0" />
<line x1="505.70" y1="283.00" x2="508.70" y2="283.00" stroke="#111" stroke-width="1.0" />
<circle cx="507.2" cy="281.8" r="2.4" fill="#111"/>
<line x1="426.90" y1="252.80" x2="426.90" y2="268.50" stroke="#2a1a1a" stroke-width="1.0" />
<line x1="425.40" y1="252.80" x2="428.40" y2="252.80" stroke="#2a1a1a" stroke-width="1.0" />
<line x1="425.40" y1="268.50" x2="428.40" y2="268.50" stroke="#2a1a1a" stroke-width="1.0" />
<rect x="424.90" y="258.80" width="4.00" height="4.00" fill="#8a3040" stroke="#3a1018" stroke-width="0.8" />
<line x1="441.80" y1="243.10" x2="441.80" y2="262.30" stroke="#2a1a1a" stroke-width="1.0" />
<line x1="440.30" y1="243.10" x2="443.30" y2="243.10" stroke="#2a1a1a" stroke-width="1.0" />
<line x1="440.30" y1="262.30" x2="443.30" y2="262.30" stroke="#2a1a1a" stroke-width="1.0" />
<rect x="439.80" y="251.10" width="4.00" height="4.00" fill="#8a3040" stroke="#3a1018" stroke-width="0.8" />
<line x1="458.90" y1="254.30" x2="458.90" y2="265.10" stroke="#2a1a1a" stroke-width="1.0" />
<line x1="457.40" y1="254.30" x2="460.40" y2="254.30" stroke="#2a1a1a" stroke-width="1.0" />
<line x1="457.40" y1="265.10" x2="460.40" y2="265.10" stroke="#2a1a1a" stroke-width="1.0" />
<rect x="456.90" y="257.50" width="4.00" height="4.00" fill="#8a3040" stroke="#3a1018" stroke-width="0.8" />
<line x1="474.90" y1="266.50" x2="474.90" y2="272.80" stroke="#2a1a1a" stroke-width="1.0" />
<line x1="473.40" y1="266.50" x2="476.40" y2="266.50" stroke="#2a1a1a" stroke-width="1.0" />
<line x1="473.40" y1="272.80" x2="476.40" y2="272.80" stroke="#2a1a1a" stroke-width="1.0" />
<rect x="472.90" y="267.90" width="4.00" height="4.00" fill="#8a3040" stroke="#3a1018" stroke-width="0.8" />
<line x1="492.00" y1="254.20" x2="492.00" y2="271.10" stroke="#2a1a1a" stroke-width="1.0" />
<line x1="490.50" y1="254.20" x2="493.50" y2="254.20" stroke="#2a1a1a" stroke-width="1.0" />
<line x1="490.50" y1="271.10" x2="493.50" y2="271.10" stroke="#2a1a1a" stroke-width="1.0" />
<rect x="490.00" y="260.80" width="4.00" height="4.00" fill="#8a3040" stroke="#3a1018" stroke-width="0.8" />
<line x1="507.20" y1="256.60" x2="507.20" y2="272.30" stroke="#2a1a1a" stroke-width="1.0" />
<line x1="505.70" y1="256.60" x2="508.70" y2="256.60" stroke="#2a1a1a" stroke-width="1.0" />
<line x1="505.70" y1="272.30" x2="508.70" y2="272.30" stroke="#2a1a1a" stroke-width="1.0" />
<rect x="505.20" y="262.60" width="4.00" height="4.00" fill="#8a3040" stroke="#3a1018" stroke-width="0.8" />
<text x="426.80" y="250.60" font-size="13" text-anchor="middle" fill="#231f20" stroke-width="0.55">*</text>
<text x="441.30" y="242.40" font-size="13" text-anchor="middle" fill="#231f20" stroke-width="0.55">*</text>
<text x="458.90" y="252.00" font-size="13" text-anchor="middle" fill="#231f20" stroke-width="0.55">**</text>
<text x="492.00" y="253.20" font-size="13" text-anchor="middle" fill="#231f20" stroke-width="0.55">*</text>
<text x="507.20" y="255.80" font-size="13" text-anchor="middle" fill="#231f20" stroke-width="0.55">*</text>
<text x="-0.53" y="394.02" font-size="17.2" text-anchor="start" fill="#231f20" stroke-width="0.6">J</text>
<text x="147.10" y="395.27" font-size="17.2" text-anchor="start" fill="#231f20" stroke-width="0.6">K</text>
<text x="271.50" y="394.97" font-size="17.2" text-anchor="start" fill="#231f20" stroke-width="0.6">L</text>
<text x="377.90" y="395.27" font-size="17.2" text-anchor="start" fill="#231f20" stroke-width="0.6">M</text>
<text x="35.60" y="394.50" font-size="9.00" letter-spacing="0.00" text-anchor="middle" fill="#231f20" >Pre</text>
<text x="79.40" y="394.60" font-size="9.00" letter-spacing="0.00" text-anchor="middle" fill="#231f20" >During</text>
<text x="116.3" y="394.9" font-size="9" fill="#231f20">NH<tspan font-size="6" dy="2">4</tspan></text>
<g transform="translate(10.80,431.20) rotate(-90)"><text x="0.14" y="0" font-size="8.37" letter-spacing="0.27" text-anchor="middle" fill="#231f20">WT</text></g>
<g transform="translate(10.90,498.60) rotate(-90)"><text x="0.14" y="0" font-size="8.37" letter-spacing="0.27" text-anchor="middle" fill="#231f20">α2 KD</text></g>
<defs>
<radialGradient id="blobA"><stop offset="0" stop-color="#f0e050"/><stop offset="0.25" stop-color="#c8d848"/><stop offset="0.45" stop-color="#50c890"/><stop offset="0.62" stop-color="#40b8e0"/><stop offset="0.76" stop-color="#c8f4ff"/><stop offset="0.87" stop-color="#9070ff" stop-opacity="0.8"/><stop offset="1" stop-color="#6040e0" stop-opacity="0"/></radialGradient>
<radialGradient id="blobG"><stop offset="0" stop-color="#98d050"/><stop offset="0.3" stop-color="#40b880"/><stop offset="0.55" stop-color="#40b0d8"/><stop offset="0.72" stop-color="#c8f4ff"/><stop offset="0.86" stop-color="#9070ff" stop-opacity="0.8"/><stop offset="1" stop-color="#6040e0" stop-opacity="0"/></radialGradient>
<radialGradient id="blobC"><stop offset="0" stop-color="#5050d0"/><stop offset="0.4" stop-color="#5870e0"/><stop offset="0.65" stop-color="#a8e0ff"/><stop offset="0.82" stop-color="#8060f0" stop-opacity="0.7"/><stop offset="1" stop-color="#6040e0" stop-opacity="0"/></radialGradient>
<radialGradient id="blobO"><stop offset="0" stop-color="#f07030"/><stop offset="0.25" stop-color="#e0b040"/><stop offset="0.45" stop-color="#60c080"/><stop offset="0.62" stop-color="#40b8e0"/><stop offset="0.76" stop-color="#c8f4ff"/><stop offset="0.87" stop-color="#9070ff" stop-opacity="0.8"/><stop offset="1" stop-color="#6040e0" stop-opacity="0"/></radialGradient>
<radialGradient id="spot"><stop offset="0" stop-color="#f0e8ff"/><stop offset="0.5" stop-color="#b090ff"/><stop offset="1" stop-color="#6040e0" stop-opacity="0"/></radialGradient>
<radialGradient id="glow"><stop offset="0" stop-color="#9070ff" stop-opacity="0.7"/><stop offset="1" stop-color="#6040e0" stop-opacity="0"/></radialGradient>
<linearGradient id="cbar" x1="0" y1="0" x2="0" y2="1"><stop offset="0" stop-color="#3a1414"/><stop offset="0.1" stop-color="#8a2a20"/><stop offset="0.22" stop-color="#e07030"/><stop offset="0.36" stop-color="#f0e070"/><stop offset="0.5" stop-color="#90c860"/><stop offset="0.62" stop-color="#70c0a8"/><stop offset="0.72" stop-color="#90c8f0"/><stop offset="0.86" stop-color="#5070c0"/><stop offset="1" stop-color="#202050"/></linearGradient>
<filter id="bl" x="-20%" y="-20%" width="140%" height="140%"><feGaussianBlur stdDeviation="0.55"/></filter>
<clipPath id="c11"><rect x="18.4" y="399.3" width="35" height="63.3"/></clipPath>
<clipPath id="c12"><rect x="62.6" y="399.3" width="35" height="63.3"/></clipPath>
<clipPath id="c13"><rect x="107.2" y="399.3" width="34.9" height="63.3"/></clipPath>
<clipPath id="c21"><rect x="18.4" y="466.9" width="35" height="63.4"/></clipPath>
<clipPath id="c22"><rect x="62.6" y="466.9" width="35" height="63.4"/></clipPath>
<clipPath id="c23"><rect x="107.2" y="466.9" width="34.9" height="63.4"/></clipPath>
</defs>
<rect x="18.40" y="399.30" width="35.00" height="63.30" fill="#38109c" stroke="none" stroke-width="0" />
<g clip-path="url(#c11)">
<rect x="34.2" y="434.7" width="2.8" height="1.9" fill="#50109a" opacity="0.5"/>
<rect x="48.3" y="411.3" width="2.6" height="2.0" fill="#50109a" opacity="0.5"/>
<rect x="46.2" y="405.3" width="1.6" height="1.2" fill="#6a1a9a" opacity="0.5"/>
<rect x="40.6" y="437.0" width="1.8" height="1.9" fill="#6a1a9a" opacity="0.5"/>
<rect x="39.9" y="409.3" width="1.0" height="2.1" fill="#4814b8" opacity="0.5"/>
<rect x="19.6" y="455.0" width="2.2" height="2.6" fill="#5a1890" opacity="0.5"/>
<rect x="33.8" y="452.6" width="2.0" height="2.3" fill="#3a1aa8" opacity="0.5"/>
<rect x="18.6" y="404.7" width="2.3" height="1.8" fill="#50109a" opacity="0.5"/>
<rect x="53.2" y="452.5" width="2.4" height="1.6" fill="#2e0c84" opacity="0.5"/>
<rect x="36.4" y="401.2" width="2.1" height="1.2" fill="#4814b8" opacity="0.5"/>
<rect x="48.0" y="423.8" width="2.9" height="2.7" fill="#4814b8" opacity="0.5"/>
<rect x="25.9" y="458.0" width="1.1" height="1.8" fill="#6a1a9a" opacity="0.5"/>
<rect x="32.3" y="403.9" width="2.3" height="2.6" fill="#5a1890" opacity="0.5"/>
<rect x="30.2" y="419.0" width="1.0" height="1.8" fill="#4814b8" opacity="0.5"/>
<rect x="23.1" y="444.1" width="1.0" height="1.9" fill="#3a1aa8" opacity="0.5"/>
<rect x="24.6" y="434.7" width="1.9" height="1.4" fill="#6a1a9a" opacity="0.5"/>
<rect x="45.3" y="425.8" width="1.8" height="1.8" fill="#2e0c84" opacity="0.5"/>
<rect x="18.4" y="454.0" width="2.9" height="2.2" fill="#4814b8" opacity="0.5"/>
<rect x="25.8" y="424.3" width="2.7" height="2.3" fill="#4814b8" opacity="0.5"/>
<rect x="19.9" y="408.6" width="1.9" height="1.0" fill="#50109a" opacity="0.5"/>
<rect x="29.9" y="418.1" width="1.1" height="1.2" fill="#50109a" opacity="0.5"/>
<rect x="40.7" y="400.3" width="1.7" height="2.2" fill="#2e0c84" opacity="0.5"/>
<rect x="52.0" y="429.9" width="2.1" height="2.7" fill="#2e0c84" opacity="0.5"/>
<rect x="40.4" y="419.0" width="1.5" height="2.2" fill="#6a1a9a" opacity="0.5"/>
<rect x="25.0" y="446.1" width="2.9" height="1.4" fill="#3a1aa8" opacity="0.5"/>
<rect x="49.3" y="437.5" width="1.8" height="1.2" fill="#4814b8" opacity="0.5"/>
<rect x="36.3" y="415.5" width="2.5" height="1.8" fill="#3a1aa8" opacity="0.5"/>
<rect x="47.2" y="437.1" width="1.6" height="1.4" fill="#6a1a9a" opacity="0.5"/>
<rect x="52.6" y="407.3" width="2.0" height="2.3" fill="#50109a" opacity="0.5"/>
<rect x="39.9" y="417.0" width="2.8" height="1.4" fill="#4814b8" opacity="0.5"/>
<rect x="20.8" y="425.3" width="1.5" height="1.1" fill="#5a1890" opacity="0.5"/>
<rect x="31.3" y="435.5" width="1.3" height="1.7" fill="#3a1aa8" opacity="0.5"/>
<rect x="52.7" y="440.9" width="2.4" height="2.2" fill="#2e0c84" opacity="0.5"/>
<rect x="39.0" y="457.8" width="1.9" height="1.7" fill="#5a1890" opacity="0.5"/>
<rect x="52.1" y="400.6" width="2.3" height="2.0" fill="#6a1a9a" opacity="0.5"/>
<rect x="29.3" y="407.9" width="1.1" height="1.9" fill="#5a1890" opacity="0.5"/>
<rect x="44.2" y="456.3" width="2.5" height="2.4" fill="#5a1890" opacity="0.5"/>
<rect x="30.7" y="442.7" width="2.8" height="2.7" fill="#3a1aa8" opacity="0.5"/>
<rect x="51.4" y="401.2" width="2.0" height="1.0" fill="#6a1a9a" opacity="0.5"/>
<rect x="31.8" y="436.2" width="2.2" height="1.2" fill="#6a1a9a" opacity="0.5"/>
<rect x="22.4" y="415.6" width="1.8" height="1.7" fill="#6a1a9a" opacity="0.5"/>
<rect x="42.7" y="428.3" width="1.9" height="2.1" fill="#50109a" opacity="0.5"/>
<rect x="44.7" y="401.2" width="2.2" height="2.0" fill="#2e0c84" opacity="0.5"/>
<rect x="51.9" y="406.4" width="2.6" height="2.3" fill="#3a1aa8" opacity="0.5"/>
<rect x="27.4" y="400.0" width="1.6" height="2.4" fill="#2e0c84" opacity="0.5"/>
<rect x="36.5" y="447.0" width="1.7" height="2.9" fill="#3a1aa8" opacity="0.5"/>
<rect x="49.6" y="420.0" width="2.3" height="1.4" fill="#3a1aa8" opacity="0.5"/>
<rect x="46.5" y="447.1" width="1.4" height="1.4" fill="#2e0c84" opacity="0.5"/>
<rect x="38.8" y="419.3" width="1.3" height="2.0" fill="#4814b8" opacity="0.5"/>
<rect x="43.3" y="459.4" width="1.6" height="1.3" fill="#3a1aa8" opacity="0.5"/>
<rect x="34.9" y="457.9" width="2.7" height="1.8" fill="#50109a" opacity="0.5"/>
<rect x="35.7" y="419.3" width="2.7" height="3.0" fill="#3a1aa8" opacity="0.5"/>
<rect x="29.6" y="451.8" width="1.6" height="2.2" fill="#6a1a9a" opacity="0.5"/>
<rect x="43.2" y="435.4" width="1.6" height="2.6" fill="#4814b8" opacity="0.5"/>
<rect x="40.8" y="424.9" width="1.4" height="2.5" fill="#5a1890" opacity="0.5"/>
<rect x="26.7" y="408.2" width="1.1" height="2.3" fill="#3a1aa8" opacity="0.5"/>
<rect x="22.2" y="433.2" width="2.3" height="1.7" fill="#4814b8" opacity="0.5"/>
<rect x="42.4" y="411.9" width="2.0" height="1.4" fill="#4814b8" opacity="0.5"/>
<rect x="44.8" y="433.2" width="1.1" height="1.5" fill="#5a1890" opacity="0.5"/>
<rect x="37.3" y="459.2" width="2.0" height="3.0" fill="#2e0c84" opacity="0.5"/>
<path d="M18,408 L53,460" stroke="#7a58f8" stroke-width="3" fill="none" opacity="0.12" filter="url(#bl)"/>
<g filter="url(#bl)">
<ellipse cx="23" cy="417.4" rx="5" ry="4" transform="rotate(0 23 417.4)" fill="url(#glow)"/>
<ellipse cx="33" cy="426.1" rx="2.2" ry="2.2" transform="rotate(0 33 426.1)" fill="url(#glow)"/>
<ellipse cx="47.2" cy="445.3" rx="1.8" ry="1.8" transform="rotate(0 47.2 445.3)" fill="url(#glow)"/>
<ellipse cx="49.7" cy="449" rx="1.8" ry="2.2" transform="rotate(0 49.7 449)" fill="url(#glow)"/>
<ellipse cx="48.5" cy="447" rx="1.0" ry="1.4" transform="rotate(-40 48.5 447)" fill="url(#spot)"/>
</g></g>
<rect x="62.60" y="399.30" width="35.00" height="63.30" fill="#3c10a4" stroke="none" stroke-width="0" />
<g clip-path="url(#c12)">
<rect x="79.2" y="440.9" width="2.3" height="1.3" fill="#4814b8" opacity="0.5"/>
<rect x="97.5" y="429.8" width="2.3" height="1.9" fill="#50109a" opacity="0.5"/>
<rect x="70.6" y="399.4" width="2.2" height="3.0" fill="#5a1890" opacity="0.5"/>
<rect x="68.3" y="456.6" width="1.1" height="2.6" fill="#4814b8" opacity="0.5"/>
<rect x="80.6" y="451.2" width="2.4" height="2.6" fill="#4814b8" opacity="0.5"/>
<rect x="63.3" y="403.1" width="2.8" height="2.0" fill="#4814b8" opacity="0.5"/>
<rect x="97.2" y="426.1" width="1.9" height="2.3" fill="#2e0c84" opacity="0.5"/>
<rect x="81.5" y="455.1" width="2.1" height="3.0" fill="#4814b8" opacity="0.5"/>
<rect x="82.0" y="431.4" width="1.2" height="2.2" fill="#6a1a9a" opacity="0.5"/>
<rect x="83.5" y="429.5" width="1.8" height="1.1" fill="#6a1a9a" opacity="0.5"/>
<rect x="65.5" y="411.4" width="2.6" height="1.5" fill="#5a1890" opacity="0.5"/>
<rect x="92.9" y="423.7" width="1.6" height="1.5" fill="#5a1890" opacity="0.5"/>
<rect x="75.3" y="431.7" width="2.6" height="2.0" fill="#4814b8" opacity="0.5"/>
<rect x="75.9" y="453.7" width="1.1" height="1.1" fill="#6a1a9a" opacity="0.5"/>
<rect x="77.6" y="423.9" width="2.5" height="1.2" fill="#50109a" opacity="0.5"/>
<rect x="70.3" y="404.2" width="1.5" height="1.9" fill="#3a1aa8" opacity="0.5"/>
<rect x="74.6" y="439.6" width="1.1" height="1.9" fill="#2e0c84" opacity="0.5"/>
<rect x="74.5" y="428.1" width="2.4" height="2.7" fill="#2e0c84" opacity="0.5"/>
<rect x="96.1" y="409.9" width="2.8" height="1.7" fill="#2e0c84" opacity="0.5"/>
<rect x="89.4" y="413.2" width="2.2" height="2.9" fill="#5a1890" opacity="0.5"/>
<rect x="68.9" y="449.6" width="2.0" height="1.5" fill="#4814b8" opacity="0.5"/>
<rect x="97.0" y="462.5" width="2.0" height="1.0" fill="#5a1890" opacity="0.5"/>
<rect x="93.5" y="441.6" width="1.6" height="1.2" fill="#50109a" opacity="0.5"/>
<rect x="80.2" y="430.3" width="1.7" height="2.4" fill="#3a1aa8" opacity="0.5"/>
<rect x="93.9" y="409.6" width="1.6" height="2.7" fill="#5a1890" opacity="0.5"/>
<rect x="74.2" y="453.9" width="2.3" height="1.9" fill="#2e0c84" opacity="0.5"/>
<rect x="88.3" y="432.3" width="1.1" height="1.0" fill="#4814b8" opacity="0.5"/>
<rect x="67.2" y="455.4" width="1.8" height="1.5" fill="#3a1aa8" opacity="0.5"/>
<rect x="79.1" y="403.0" width="2.1" height="2.4" fill="#5a1890" opacity="0.5"/>
<rect x="89.2" y="425.7" width="2.2" height="2.8" fill="#2e0c84" opacity="0.5"/>
<rect x="82.9" y="421.3" width="1.7" height="2.5" fill="#50109a" opacity="0.5"/>
<rect x="68.2" y="442.9" width="1.3" height="1.1" fill="#4814b8" opacity="0.5"/>
<rect x="94.0" y="456.9" width="2.1" height="2.6" fill="#3a1aa8" opacity="0.5"/>
<rect x="90.3" y="444.3" width="1.4" height="1.5" fill="#6a1a9a" opacity="0.5"/>
<rect x="86.6" y="430.4" width="2.2" height="1.4" fill="#50109a" opacity="0.5"/>
<rect x="87.1" y="424.3" width="1.5" height="1.8" fill="#5a1890" opacity="0.5"/>
<rect x="65.5" y="420.3" width="2.4" height="2.4" fill="#5a1890" opacity="0.5"/>
<rect x="87.0" y="447.4" width="2.3" height="2.9" fill="#5a1890" opacity="0.5"/>
<rect x="68.8" y="412.5" width="2.2" height="2.0" fill="#4814b8" opacity="0.5"/>
<rect x="86.0" y="420.9" width="1.5" height="1.7" fill="#2e0c84" opacity="0.5"/>
<rect x="62.9" y="422.1" width="1.6" height="1.4" fill="#3a1aa8" opacity="0.5"/>
<rect x="73.0" y="432.0" width="1.3" height="2.8" fill="#5a1890" opacity="0.5"/>
<rect x="68.3" y="428.7" width="2.2" height="2.7" fill="#2e0c84" opacity="0.5"/>
<rect x="78.7" y="449.0" width="1.1" height="2.5" fill="#3a1aa8" opacity="0.5"/>
<rect x="81.4" y="447.5" width="1.8" height="2.3" fill="#6a1a9a" opacity="0.5"/>
<rect x="64.4" y="406.0" width="2.1" height="1.6" fill="#6a1a9a" opacity="0.5"/>
<rect x="63.2" y="448.4" width="2.8" height="2.3" fill="#2e0c84" opacity="0.5"/>
<rect x="67.4" y="413.6" width="2.1" height="1.5" fill="#4814b8" opacity="0.5"/>
<rect x="77.6" y="422.4" width="1.8" height="2.3" fill="#5a1890" opacity="0.5"/>
<rect x="76.2" y="454.6" width="2.8" height="1.6" fill="#2e0c84" opacity="0.5"/>
<rect x="71.7" y="401.4" width="2.3" height="2.6" fill="#3a1aa8" opacity="0.5"/>
<rect x="77.0" y="438.4" width="1.5" height="1.8" fill="#3a1aa8" opacity="0.5"/>
<rect x="79.8" y="458.8" width="2.6" height="1.4" fill="#2e0c84" opacity="0.5"/>
<rect x="91.9" y="406.2" width="1.5" height="2.8" fill="#6a1a9a" opacity="0.5"/>
<rect x="93.2" y="451.3" width="1.7" height="2.5" fill="#5a1890" opacity="0.5"/>
<rect x="89.6" y="453.7" width="1.6" height="2.7" fill="#6a1a9a" opacity="0.5"/>
<rect x="93.4" y="400.9" width="1.6" height="1.0" fill="#2e0c84" opacity="0.5"/>
<rect x="69.4" y="411.8" width="2.6" height="2.9" fill="#2e0c84" opacity="0.5"/>
<rect x="89.7" y="433.9" width="1.0" height="2.8" fill="#5a1890" opacity="0.5"/>
<rect x="86.6" y="433.2" width="1.9" height="2.1" fill="#6a1a9a" opacity="0.5"/>
<path d="M62,408 L98,460" stroke="#7a58f8" stroke-width="2.4" fill="none" opacity="0.25" filter="url(#bl)"/>
<g filter="url(#bl)">
<ellipse cx="67.1" cy="416.7" rx="5" ry="7.5" transform="rotate(-40 67.1 416.7)" fill="url(#glow)"/>
<ellipse cx="67.1" cy="416.7" rx="3.6" ry="6.0" transform="rotate(-40 67.1 416.7)" fill="url(#blobG)"/>
<ellipse cx="77.3" cy="426.5" rx="4.5" ry="6.5" transform="rotate(-40 77.3 426.5)" fill="url(#glow)"/>
<ellipse cx="77.3" cy="426.5" rx="3.2" ry="5.0" transform="rotate(-40 77.3 426.5)" fill="url(#blobO)"/>
<ellipse cx="83.7" cy="436.5" rx="1.8" ry="2.4" transform="rotate(-40 83.7 436.5)" fill="url(#glow)"/>
<ellipse cx="92.0" cy="446.8" rx="5" ry="7.5" transform="rotate(-40 92.0 446.8)" fill="url(#glow)"/>
<ellipse cx="92.0" cy="446.8" rx="3.4" ry="6.2" transform="rotate(-40 92.0 446.8)" fill="url(#blobA)"/>
</g></g>
<rect x="107.20" y="399.30" width="34.90" height="63.30" fill="#4414b8" stroke="none" stroke-width="0" />
<g clip-path="url(#c13)">
<rect x="116.2" y="442.7" width="2.4" height="2.7" fill="#2e0c84" opacity="0.5"/>
<rect x="130.0" y="441.5" width="2.7" height="2.3" fill="#2e0c84" opacity="0.5"/>
<rect x="111.7" y="432.9" width="1.4" height="1.6" fill="#3a1aa8" opacity="0.5"/>
<rect x="111.6" y="442.6" width="3.0" height="3.0" fill="#2e0c84" opacity="0.5"/>
<rect x="110.2" y="449.6" width="2.8" height="1.5" fill="#3a1aa8" opacity="0.5"/>
<rect x="133.2" y="459.4" width="2.6" height="1.5" fill="#2e0c84" opacity="0.5"/>
<rect x="124.2" y="447.1" width="2.1" height="1.9" fill="#5a1890" opacity="0.5"/>
<rect x="138.2" y="439.7" width="2.3" height="1.7" fill="#50109a" opacity="0.5"/>
<rect x="135.1" y="461.7" width="2.4" height="2.1" fill="#6a1a9a" opacity="0.5"/>
<rect x="141.7" y="427.2" width="2.5" height="2.1" fill="#5a1890" opacity="0.5"/>
<rect x="114.3" y="432.4" width="1.5" height="1.9" fill="#50109a" opacity="0.5"/>
<rect x="117.0" y="455.6" width="2.2" height="2.1" fill="#50109a" opacity="0.5"/>
<rect x="115.4" y="411.6" width="1.7" height="1.1" fill="#6a1a9a" opacity="0.5"/>
<rect x="129.2" y="428.6" width="1.0" height="1.8" fill="#4814b8" opacity="0.5"/>
<rect x="115.0" y="430.8" width="2.4" height="1.9" fill="#5a1890" opacity="0.5"/>
<rect x="112.8" y="425.5" width="2.7" height="2.8" fill="#5a1890" opacity="0.5"/>
<rect x="114.3" y="453.3" width="1.7" height="2.4" fill="#2e0c84" opacity="0.5"/>
<rect x="138.7" y="443.9" width="1.5" height="2.0" fill="#50109a" opacity="0.5"/>
<rect x="108.7" y="443.7" width="1.1" height="2.2" fill="#50109a" opacity="0.5"/>
<rect x="119.1" y="418.0" width="1.3" height="2.4" fill="#4814b8" opacity="0.5"/>
<rect x="138.6" y="409.9" width="1.9" height="2.2" fill="#50109a" opacity="0.5"/>
<rect x="131.5" y="460.8" width="2.7" height="2.3" fill="#50109a" opacity="0.5"/>
<rect x="107.3" y="462.5" width="1.2" height="1.6" fill="#5a1890" opacity="0.5"/>
<rect x="126.9" y="443.5" width="2.9" height="2.0" fill="#4814b8" opacity="0.5"/>
<rect x="107.4" y="420.5" width="2.0" height="2.9" fill="#50109a" opacity="0.5"/>
<rect x="136.0" y="413.4" width="1.4" height="2.6" fill="#3a1aa8" opacity="0.5"/>
<rect x="124.7" y="456.9" width="2.5" height="1.5" fill="#6a1a9a" opacity="0.5"/>
<rect x="136.0" y="412.9" width="1.8" height="1.5" fill="#2e0c84" opacity="0.5"/>
<rect x="127.9" y="426.4" width="2.3" height="1.9" fill="#5a1890" opacity="0.5"/>
<rect x="121.1" y="404.8" width="2.5" height="2.2" fill="#4814b8" opacity="0.5"/>
<rect x="130.0" y="418.7" width="1.9" height="3.0" fill="#3a1aa8" opacity="0.5"/>
<rect x="118.8" y="417.6" width="1.9" height="1.3" fill="#4814b8" opacity="0.5"/>
<rect x="111.1" y="451.4" width="1.4" height="1.6" fill="#3a1aa8" opacity="0.5"/>
<rect x="117.4" y="421.3" width="1.2" height="2.0" fill="#50109a" opacity="0.5"/>
<rect x="137.8" y="462.0" width="1.1" height="2.1" fill="#2e0c84" opacity="0.5"/>
<rect x="141.0" y="402.4" width="1.3" height="2.8" fill="#6a1a9a" opacity="0.5"/>
<rect x="111.6" y="399.6" width="1.5" height="2.7" fill="#2e0c84" opacity="0.5"/>
<rect x="110.3" y="458.3" width="1.1" height="1.5" fill="#2e0c84" opacity="0.5"/>
<rect x="108.8" y="414.4" width="2.7" height="1.5" fill="#3a1aa8" opacity="0.5"/>
<rect x="114.0" y="424.2" width="1.1" height="2.1" fill="#4814b8" opacity="0.5"/>
<rect x="111.2" y="408.0" width="2.1" height="2.6" fill="#50109a" opacity="0.5"/>
<rect x="121.0" y="408.7" width="2.1" height="1.5" fill="#5a1890" opacity="0.5"/>
<rect x="109.0" y="401.2" width="2.5" height="1.2" fill="#6a1a9a" opacity="0.5"/>
<rect x="116.7" y="405.1" width="1.7" height="2.3" fill="#2e0c84" opacity="0.5"/>
<rect x="128.9" y="452.0" width="2.4" height="1.6" fill="#4814b8" opacity="0.5"/>
<rect x="111.0" y="418.8" width="3.0" height="1.9" fill="#5a1890" opacity="0.5"/>
<rect x="112.5" y="408.8" width="1.6" height="2.1" fill="#50109a" opacity="0.5"/>
<rect x="116.2" y="420.3" width="2.9" height="1.5" fill="#5a1890" opacity="0.5"/>
<rect x="121.7" y="462.2" width="2.5" height="2.0" fill="#5a1890" opacity="0.5"/>
<rect x="112.6" y="435.9" width="2.9" height="1.9" fill="#3a1aa8" opacity="0.5"/>
<rect x="132.1" y="451.9" width="1.1" height="2.8" fill="#3a1aa8" opacity="0.5"/>
<rect x="135.9" y="410.6" width="1.2" height="2.2" fill="#5a1890" opacity="0.5"/>
<rect x="110.0" y="456.5" width="2.1" height="2.4" fill="#4814b8" opacity="0.5"/>
<rect x="114.7" y="446.5" width="2.3" height="1.9" fill="#50109a" opacity="0.5"/>
<rect x="108.0" y="453.9" width="1.3" height="2.7" fill="#2e0c84" opacity="0.5"/>
<rect x="129.9" y="445.6" width="1.9" height="2.5" fill="#2e0c84" opacity="0.5"/>
<rect x="124.2" y="437.8" width="1.5" height="2.1" fill="#4814b8" opacity="0.5"/>
<rect x="127.1" y="455.8" width="2.8" height="2.3" fill="#50109a" opacity="0.5"/>
<rect x="109.0" y="443.6" width="1.9" height="2.8" fill="#6a1a9a" opacity="0.5"/>
<rect x="107.6" y="422.7" width="1.3" height="1.9" fill="#5a1890" opacity="0.5"/>
<path d="M107,405 L142,462" stroke="#7a58f8" stroke-width="2.4" fill="none" opacity="0.4" filter="url(#bl)"/>
<g filter="url(#bl)">
<ellipse cx="111.7" cy="416.7" rx="5.5" ry="8.5" transform="rotate(-40 111.7 416.7)" fill="url(#glow)"/>
<ellipse cx="111.7" cy="416.7" rx="4.2" ry="7.2" transform="rotate(-40 111.7 416.7)" fill="url(#blobG)"/>
<ellipse cx="122.3" cy="427.2" rx="5" ry="7.5" transform="rotate(-40 122.3 427.2)" fill="url(#glow)"/>
<ellipse cx="122.3" cy="427.2" rx="3.6" ry="6.2" transform="rotate(-40 122.3 427.2)" fill="url(#blobA)"/>
<ellipse cx="127.4" cy="435.8" rx="1.8" ry="2.4" transform="rotate(-40 127.4 435.8)" fill="url(#glow)"/>
<ellipse cx="137.0" cy="447.0" rx="5.5" ry="8.5" transform="rotate(-40 137.0 447.0)" fill="url(#glow)"/>
<ellipse cx="137.0" cy="447.0" rx="3.9" ry="6.8" transform="rotate(-40 137.0 447.0)" fill="url(#blobG)"/>
</g></g>
<rect x="108.70" y="458.80" width="9.20" height="3.20" fill="#ffffff" stroke="none" stroke-width="0" />
<rect x="18.40" y="466.90" width="35.00" height="63.40" fill="#38109c" stroke="none" stroke-width="0" />
<g clip-path="url(#c21)">
<rect x="24.2" y="510.6" width="2.3" height="2.0" fill="#2e0c84" opacity="0.5"/>
<rect x="53.0" y="497.0" width="2.9" height="1.4" fill="#50109a" opacity="0.5"/>
<rect x="26.7" y="467.1" width="1.7" height="2.2" fill="#4814b8" opacity="0.5"/>
<rect x="23.5" y="514.5" width="2.8" height="2.4" fill="#3a1aa8" opacity="0.5"/>
<rect x="53.3" y="513.7" width="2.8" height="2.2" fill="#4814b8" opacity="0.5"/>
<rect x="51.9" y="501.1" width="2.4" height="2.3" fill="#5a1890" opacity="0.5"/>
<rect x="19.2" y="513.9" width="1.2" height="2.6" fill="#4814b8" opacity="0.5"/>
<rect x="34.3" y="501.9" width="1.7" height="2.0" fill="#2e0c84" opacity="0.5"/>
<rect x="41.7" y="496.7" width="2.6" height="1.1" fill="#2e0c84" opacity="0.5"/>
<rect x="25.7" y="528.3" width="2.8" height="2.5" fill="#50109a" opacity="0.5"/>
<rect x="53.0" y="471.4" width="2.1" height="2.1" fill="#3a1aa8" opacity="0.5"/>
<rect x="25.4" y="525.4" width="2.8" height="1.8" fill="#5a1890" opacity="0.5"/>
<rect x="51.8" y="498.7" width="1.6" height="2.0" fill="#5a1890" opacity="0.5"/>
<rect x="19.3" y="472.8" width="2.4" height="3.0" fill="#3a1aa8" opacity="0.5"/>
<rect x="18.5" y="471.3" width="2.2" height="2.0" fill="#50109a" opacity="0.5"/>
<rect x="39.7" y="502.2" width="2.2" height="1.4" fill="#2e0c84" opacity="0.5"/>
<rect x="40.3" y="519.8" width="1.7" height="2.5" fill="#5a1890" opacity="0.5"/>
<rect x="27.0" y="477.6" width="2.8" height="1.3" fill="#3a1aa8" opacity="0.5"/>
<rect x="31.5" y="510.2" width="2.4" height="2.8" fill="#2e0c84" opacity="0.5"/>
<rect x="32.6" y="529.6" width="2.9" height="2.2" fill="#5a1890" opacity="0.5"/>
<rect x="35.6" y="490.7" width="1.5" height="2.8" fill="#2e0c84" opacity="0.5"/>
<rect x="38.1" y="494.7" width="1.8" height="2.5" fill="#4814b8" opacity="0.5"/>
<rect x="47.7" y="470.2" width="1.5" height="1.6" fill="#3a1aa8" opacity="0.5"/>
<rect x="27.1" y="491.9" width="2.7" height="2.3" fill="#2e0c84" opacity="0.5"/>
<rect x="52.8" y="514.2" width="2.0" height="1.5" fill="#6a1a9a" opacity="0.5"/>
<rect x="36.8" y="513.1" width="1.1" height="1.4" fill="#5a1890" opacity="0.5"/>
<rect x="46.2" y="522.8" width="2.2" height="1.9" fill="#50109a" opacity="0.5"/>
<rect x="50.0" y="497.1" width="1.3" height="2.2" fill="#2e0c84" opacity="0.5"/>
<rect x="45.3" y="467.5" width="2.4" height="2.9" fill="#4814b8" opacity="0.5"/>
<rect x="27.7" y="487.6" width="1.5" height="2.9" fill="#3a1aa8" opacity="0.5"/>
<rect x="27.4" y="492.6" width="2.9" height="2.8" fill="#2e0c84" opacity="0.5"/>
<rect x="23.4" y="492.1" width="1.4" height="2.3" fill="#2e0c84" opacity="0.5"/>
<rect x="20.9" y="474.4" width="1.6" height="1.6" fill="#5a1890" opacity="0.5"/>
<rect x="32.3" y="523.2" width="2.2" height="1.4" fill="#3a1aa8" opacity="0.5"/>
<rect x="25.5" y="514.1" width="2.5" height="2.2" fill="#50109a" opacity="0.5"/>
<rect x="49.0" y="516.0" width="2.6" height="1.0" fill="#3a1aa8" opacity="0.5"/>
<rect x="48.7" y="492.1" width="2.1" height="2.7" fill="#2e0c84" opacity="0.5"/>
<rect x="27.3" y="511.1" width="1.6" height="1.1" fill="#3a1aa8" opacity="0.5"/>
<rect x="23.9" y="512.9" width="3.0" height="2.6" fill="#50109a" opacity="0.5"/>
<rect x="35.6" y="503.2" width="2.1" height="1.1" fill="#50109a" opacity="0.5"/>
<rect x="44.1" y="528.2" width="1.6" height="2.4" fill="#50109a" opacity="0.5"/>
<rect x="44.9" y="478.9" width="2.2" height="1.7" fill="#2e0c84" opacity="0.5"/>
<rect x="30.8" y="487.1" width="3.0" height="1.2" fill="#4814b8" opacity="0.5"/>
<rect x="41.2" y="506.6" width="2.6" height="3.0" fill="#50109a" opacity="0.5"/>
<rect x="40.1" y="468.2" width="2.3" height="1.9" fill="#50109a" opacity="0.5"/>
<rect x="36.4" y="522.4" width="1.1" height="1.0" fill="#6a1a9a" opacity="0.5"/>
<rect x="33.6" y="482.6" width="2.4" height="2.6" fill="#6a1a9a" opacity="0.5"/>
<rect x="33.3" y="517.5" width="1.8" height="1.7" fill="#2e0c84" opacity="0.5"/>
<rect x="40.5" y="528.0" width="1.2" height="2.0" fill="#3a1aa8" opacity="0.5"/>
<rect x="31.5" y="505.2" width="1.4" height="1.9" fill="#6a1a9a" opacity="0.5"/>
<rect x="44.9" y="509.3" width="2.7" height="2.4" fill="#6a1a9a" opacity="0.5"/>
<rect x="27.6" y="497.4" width="2.0" height="1.6" fill="#3a1aa8" opacity="0.5"/>
<rect x="47.3" y="528.0" width="3.0" height="1.0" fill="#5a1890" opacity="0.5"/>
<rect x="25.5" y="522.4" width="2.4" height="1.2" fill="#2e0c84" opacity="0.5"/>
<rect x="21.2" y="486.1" width="2.9" height="2.5" fill="#3a1aa8" opacity="0.5"/>
<rect x="52.8" y="529.7" width="1.3" height="1.9" fill="#6a1a9a" opacity="0.5"/>
<rect x="30.1" y="507.6" width="2.4" height="1.5" fill="#4814b8" opacity="0.5"/>
<rect x="29.7" y="483.0" width="2.7" height="1.3" fill="#6a1a9a" opacity="0.5"/>
<rect x="36.1" y="482.0" width="2.4" height="2.4" fill="#2e0c84" opacity="0.5"/>
<rect x="51.3" y="496.5" width="1.9" height="2.2" fill="#5a1890" opacity="0.5"/>
<path d="M40,467 Q34,500 38,530" stroke="#7a58f8" stroke-width="3" fill="none" opacity="0.14" filter="url(#bl)"/>
<g filter="url(#bl)">
<ellipse cx="41.0" cy="469.5" rx="1.4" ry="1.4" transform="rotate(0 41.0 469.5)" fill="url(#spot)"/>
<ellipse cx="37" cy="498" rx="3" ry="14" transform="rotate(0 37 498)" fill="url(#glow)"/>
</g></g>
<rect x="62.60" y="466.90" width="35.00" height="63.40" fill="#38109c" stroke="none" stroke-width="0" />
<g clip-path="url(#c22)">
<rect x="96.1" y="475.8" width="1.0" height="3.0" fill="#2e0c84" opacity="0.5"/>
<rect x="87.2" y="513.8" width="2.8" height="2.6" fill="#4814b8" opacity="0.5"/>
<rect x="70.7" y="527.7" width="1.6" height="2.2" fill="#50109a" opacity="0.5"/>
<rect x="86.6" y="525.5" width="2.4" height="1.1" fill="#4814b8" opacity="0.5"/>
<rect x="83.2" y="486.6" width="1.4" height="2.7" fill="#50109a" opacity="0.5"/>
<rect x="81.2" y="513.1" width="3.0" height="2.9" fill="#4814b8" opacity="0.5"/>
<rect x="87.0" y="505.7" width="1.5" height="2.9" fill="#5a1890" opacity="0.5"/>
<rect x="94.1" y="522.1" width="2.9" height="2.0" fill="#5a1890" opacity="0.5"/>
<rect x="91.5" y="509.2" width="1.4" height="1.1" fill="#50109a" opacity="0.5"/>
<rect x="94.1" y="493.5" width="1.5" height="1.6" fill="#3a1aa8" opacity="0.5"/>
<rect x="76.5" y="525.5" width="1.4" height="2.1" fill="#3a1aa8" opacity="0.5"/>
<rect x="83.0" y="485.7" width="2.2" height="2.1" fill="#3a1aa8" opacity="0.5"/>
<rect x="89.1" y="523.9" width="1.9" height="1.2" fill="#3a1aa8" opacity="0.5"/>
<rect x="75.0" y="494.3" width="1.8" height="2.9" fill="#2e0c84" opacity="0.5"/>
<rect x="80.5" y="492.3" width="1.2" height="2.8" fill="#2e0c84" opacity="0.5"/>
<rect x="63.7" y="490.8" width="1.4" height="2.8" fill="#6a1a9a" opacity="0.5"/>
<rect x="69.3" y="469.2" width="2.1" height="2.6" fill="#6a1a9a" opacity="0.5"/>
<rect x="88.5" y="508.5" width="1.2" height="1.4" fill="#4814b8" opacity="0.5"/>
<rect x="91.6" y="525.3" width="1.9" height="2.7" fill="#3a1aa8" opacity="0.5"/>
<rect x="87.4" y="475.5" width="1.6" height="2.4" fill="#3a1aa8" opacity="0.5"/>
<rect x="79.3" y="471.1" width="2.4" height="2.9" fill="#4814b8" opacity="0.5"/>
<rect x="91.3" y="505.5" width="2.9" height="1.0" fill="#50109a" opacity="0.5"/>
<rect x="74.9" y="471.0" width="1.2" height="2.3" fill="#50109a" opacity="0.5"/>
<rect x="77.8" y="484.0" width="1.1" height="2.9" fill="#5a1890" opacity="0.5"/>
<rect x="86.4" y="529.9" width="2.1" height="2.0" fill="#4814b8" opacity="0.5"/>
<rect x="68.9" y="484.4" width="1.2" height="1.9" fill="#2e0c84" opacity="0.5"/>
<rect x="76.7" y="474.4" width="2.8" height="2.0" fill="#2e0c84" opacity="0.5"/>
<rect x="63.9" y="490.8" width="2.7" height="1.1" fill="#2e0c84" opacity="0.5"/>
<rect x="89.0" y="507.2" width="1.1" height="2.4" fill="#3a1aa8" opacity="0.5"/>
<rect x="78.9" y="482.7" width="1.5" height="1.5" fill="#4814b8" opacity="0.5"/>
<rect x="95.2" y="502.8" width="1.4" height="2.9" fill="#5a1890" opacity="0.5"/>
<rect x="64.6" y="498.5" width="2.2" height="1.1" fill="#3a1aa8" opacity="0.5"/>
<rect x="87.1" y="484.5" width="2.5" height="1.4" fill="#3a1aa8" opacity="0.5"/>
<rect x="92.2" y="481.7" width="2.1" height="1.3" fill="#5a1890" opacity="0.5"/>
<rect x="71.7" y="528.5" width="2.4" height="2.4" fill="#50109a" opacity="0.5"/>
<rect x="85.0" y="478.0" width="2.6" height="2.8" fill="#50109a" opacity="0.5"/>
<rect x="85.3" y="484.6" width="2.7" height="1.5" fill="#5a1890" opacity="0.5"/>
<rect x="72.3" y="477.0" width="2.7" height="2.0" fill="#6a1a9a" opacity="0.5"/>
<rect x="80.1" y="475.5" width="2.1" height="2.0" fill="#5a1890" opacity="0.5"/>
<rect x="93.2" y="515.2" width="1.8" height="2.3" fill="#2e0c84" opacity="0.5"/>
<rect x="87.3" y="472.3" width="2.8" height="1.7" fill="#4814b8" opacity="0.5"/>
<rect x="80.7" y="528.4" width="1.3" height="2.1" fill="#50109a" opacity="0.5"/>
<rect x="62.6" y="487.3" width="2.5" height="1.2" fill="#50109a" opacity="0.5"/>
<rect x="86.6" y="518.0" width="2.7" height="1.2" fill="#4814b8" opacity="0.5"/>
<rect x="94.8" y="483.2" width="1.6" height="1.6" fill="#3a1aa8" opacity="0.5"/>
<rect x="82.7" y="500.2" width="2.1" height="1.6" fill="#6a1a9a" opacity="0.5"/>
<rect x="95.6" y="513.0" width="2.8" height="2.6" fill="#6a1a9a" opacity="0.5"/>
<rect x="95.9" y="510.0" width="1.0" height="1.5" fill="#4814b8" opacity="0.5"/>
<rect x="95.0" y="485.8" width="1.0" height="1.6" fill="#4814b8" opacity="0.5"/>
<rect x="94.3" y="519.2" width="2.8" height="1.3" fill="#5a1890" opacity="0.5"/>
<rect x="77.1" y="489.3" width="2.6" height="1.6" fill="#50109a" opacity="0.5"/>
<rect x="70.6" y="506.3" width="2.8" height="2.8" fill="#3a1aa8" opacity="0.5"/>
<rect x="95.9" y="499.5" width="1.4" height="1.3" fill="#2e0c84" opacity="0.5"/>
<rect x="88.9" y="502.2" width="1.9" height="1.5" fill="#2e0c84" opacity="0.5"/>
<rect x="91.3" y="474.1" width="2.0" height="2.6" fill="#50109a" opacity="0.5"/>
<rect x="75.8" y="509.7" width="1.4" height="1.3" fill="#6a1a9a" opacity="0.5"/>
<rect x="83.0" y="496.0" width="2.3" height="1.1" fill="#6a1a9a" opacity="0.5"/>
<rect x="78.7" y="520.9" width="1.9" height="1.4" fill="#6a1a9a" opacity="0.5"/>
<rect x="63.0" y="472.1" width="1.3" height="1.9" fill="#4814b8" opacity="0.5"/>
<rect x="70.2" y="496.8" width="2.3" height="2.3" fill="#4814b8" opacity="0.5"/>
<path d="M85,467 Q74,495 80,532" stroke="#7a58f8" stroke-width="2.8" fill="none" opacity="0.45" filter="url(#bl)"/>
<g filter="url(#bl)">
<ellipse cx="85.4" cy="470.6" rx="3.5" ry="3.5" transform="rotate(0 85.4 470.6)" fill="url(#glow)"/>
<ellipse cx="85.4" cy="470.6" rx="2.5" ry="2.6" transform="rotate(0 85.4 470.6)" fill="url(#blobC)"/>
<ellipse cx="76.1" cy="484.8" rx="3" ry="3" transform="rotate(0 76.1 484.8)" fill="url(#glow)"/>
<ellipse cx="75.5" cy="502.2" rx="4" ry="4" transform="rotate(0 75.5 502.2)" fill="url(#glow)"/>
<ellipse cx="82.3" cy="505.9" rx="4" ry="4.5" transform="rotate(0 82.3 505.9)" fill="url(#glow)"/>
<ellipse cx="82.3" cy="505.9" rx="2.8" ry="3.3" transform="rotate(0 82.3 505.9)" fill="url(#blobC)"/>
<ellipse cx="78.6" cy="518.9" rx="3" ry="3" transform="rotate(0 78.6 518.9)" fill="url(#glow)"/>
</g></g>
<rect x="107.20" y="466.90" width="34.90" height="63.40" fill="#4214b4" stroke="none" stroke-width="0" />
<g clip-path="url(#c23)">
<rect x="139.5" y="527.0" width="2.8" height="1.2" fill="#50109a" opacity="0.5"/>
<rect x="117.9" y="490.9" width="1.7" height="2.5" fill="#5a1890" opacity="0.5"/>
<rect x="122.7" y="480.9" width="1.9" height="1.0" fill="#4814b8" opacity="0.5"/>
<rect x="141.4" y="498.5" width="1.0" height="2.3" fill="#3a1aa8" opacity="0.5"/>
<rect x="119.7" y="470.5" width="2.6" height="2.2" fill="#6a1a9a" opacity="0.5"/>
<rect x="113.2" y="480.6" width="2.5" height="2.1" fill="#5a1890" opacity="0.5"/>
<rect x="141.0" y="484.7" width="2.9" height="2.1" fill="#3a1aa8" opacity="0.5"/>
<rect x="113.4" y="497.5" width="2.6" height="2.4" fill="#2e0c84" opacity="0.5"/>
<rect x="113.6" y="478.2" width="1.6" height="2.6" fill="#2e0c84" opacity="0.5"/>
<rect x="127.5" y="472.1" width="1.9" height="2.1" fill="#50109a" opacity="0.5"/>
<rect x="117.0" y="504.3" width="1.2" height="2.8" fill="#50109a" opacity="0.5"/>
<rect x="117.8" y="516.2" width="2.1" height="1.5" fill="#4814b8" opacity="0.5"/>
<rect x="128.8" y="474.5" width="2.6" height="2.0" fill="#5a1890" opacity="0.5"/>
<rect x="126.2" y="525.1" width="2.2" height="2.9" fill="#2e0c84" opacity="0.5"/>
<rect x="122.9" y="469.0" width="2.3" height="1.8" fill="#2e0c84" opacity="0.5"/>
<rect x="135.5" y="510.5" width="2.9" height="2.6" fill="#4814b8" opacity="0.5"/>
<rect x="126.0" y="529.6" width="2.5" height="1.7" fill="#3a1aa8" opacity="0.5"/>
<rect x="124.3" y="469.2" width="1.5" height="2.1" fill="#3a1aa8" opacity="0.5"/>
<rect x="140.4" y="480.6" width="1.2" height="2.1" fill="#2e0c84" opacity="0.5"/>
<rect x="131.3" y="502.3" width="1.5" height="1.2" fill="#2e0c84" opacity="0.5"/>
<rect x="138.6" y="495.1" width="1.7" height="2.8" fill="#2e0c84" opacity="0.5"/>
<rect x="138.4" y="510.5" width="1.8" height="2.4" fill="#6a1a9a" opacity="0.5"/>
<rect x="133.2" y="501.5" width="1.9" height="1.6" fill="#50109a" opacity="0.5"/>
<rect x="128.5" y="470.2" width="1.6" height="1.1" fill="#2e0c84" opacity="0.5"/>
<rect x="118.8" y="502.4" width="2.7" height="1.5" fill="#6a1a9a" opacity="0.5"/>
<rect x="109.9" y="502.5" width="2.1" height="1.5" fill="#50109a" opacity="0.5"/>
<rect x="140.6" y="517.6" width="3.0" height="1.5" fill="#5a1890" opacity="0.5"/>
<rect x="120.4" y="516.7" width="1.3" height="2.7" fill="#2e0c84" opacity="0.5"/>
<rect x="134.9" y="468.8" width="2.3" height="2.5" fill="#4814b8" opacity="0.5"/>
<rect x="121.9" y="484.5" width="2.2" height="3.0" fill="#6a1a9a" opacity="0.5"/>
<rect x="126.6" y="500.3" width="1.6" height="2.8" fill="#4814b8" opacity="0.5"/>
<rect x="115.1" y="470.8" width="2.8" height="1.8" fill="#4814b8" opacity="0.5"/>
<rect x="130.7" y="505.3" width="1.6" height="1.6" fill="#5a1890" opacity="0.5"/>
<rect x="135.3" y="484.3" width="2.9" height="1.3" fill="#4814b8" opacity="0.5"/>
<rect x="121.8" y="518.7" width="2.0" height="2.1" fill="#5a1890" opacity="0.5"/>
<rect x="126.0" y="510.7" width="1.8" height="2.8" fill="#2e0c84" opacity="0.5"/>
<rect x="124.7" y="473.9" width="1.9" height="1.2" fill="#50109a" opacity="0.5"/>
<rect x="134.1" y="467.4" width="1.1" height="2.6" fill="#4814b8" opacity="0.5"/>
<rect x="115.8" y="529.2" width="2.3" height="1.1" fill="#4814b8" opacity="0.5"/>
<rect x="116.8" y="489.9" width="1.3" height="2.7" fill="#4814b8" opacity="0.5"/>
<rect x="113.5" y="499.2" width="2.2" height="1.7" fill="#4814b8" opacity="0.5"/>
<rect x="129.0" y="511.1" width="2.2" height="1.1" fill="#4814b8" opacity="0.5"/>
<rect x="139.0" y="478.5" width="1.0" height="2.2" fill="#2e0c84" opacity="0.5"/>
<rect x="139.7" y="485.6" width="2.8" height="1.6" fill="#4814b8" opacity="0.5"/>
<rect x="135.9" y="505.1" width="2.2" height="1.7" fill="#2e0c84" opacity="0.5"/>
<rect x="119.4" y="477.0" width="1.4" height="2.9" fill="#5a1890" opacity="0.5"/>
<rect x="133.6" y="481.0" width="2.2" height="2.9" fill="#6a1a9a" opacity="0.5"/>
<rect x="119.8" y="508.2" width="2.5" height="2.9" fill="#5a1890" opacity="0.5"/>
<rect x="123.1" y="508.7" width="2.9" height="2.3" fill="#5a1890" opacity="0.5"/>
<rect x="120.5" y="516.0" width="2.7" height="1.1" fill="#3a1aa8" opacity="0.5"/>
<rect x="119.4" y="480.2" width="2.3" height="1.3" fill="#5a1890" opacity="0.5"/>
<rect x="121.4" y="470.6" width="1.6" height="1.9" fill="#2e0c84" opacity="0.5"/>
<rect x="127.8" y="493.2" width="1.5" height="1.6" fill="#6a1a9a" opacity="0.5"/>
<rect x="117.5" y="518.8" width="1.8" height="1.7" fill="#3a1aa8" opacity="0.5"/>
<rect x="141.0" y="500.9" width="2.2" height="1.9" fill="#50109a" opacity="0.5"/>
<rect x="113.5" y="494.8" width="1.4" height="2.5" fill="#4814b8" opacity="0.5"/>
<rect x="123.1" y="467.1" width="2.3" height="1.5" fill="#6a1a9a" opacity="0.5"/>
<rect x="108.4" y="491.7" width="2.9" height="2.5" fill="#6a1a9a" opacity="0.5"/>
<rect x="141.4" y="522.3" width="2.4" height="1.3" fill="#4814b8" opacity="0.5"/>
<rect x="133.4" y="518.4" width="1.9" height="2.5" fill="#4814b8" opacity="0.5"/>
<path d="M128,467 Q118,500 124,532" stroke="#7a58f8" stroke-width="3.2" fill="none" opacity="0.6" filter="url(#bl)"/>
<g filter="url(#bl)">
<ellipse cx="127.9" cy="471.8" rx="5" ry="8" transform="rotate(30 127.9 471.8)" fill="url(#glow)"/>
<ellipse cx="127.9" cy="471.8" rx="3.2" ry="5.5" transform="rotate(30 127.9 471.8)" fill="url(#blobA)"/>
<ellipse cx="120.5" cy="484.8" rx="2.5" ry="2.6" transform="rotate(0 120.5 484.8)" fill="url(#blobC)"/>
<ellipse cx="121" cy="491" rx="1.8" ry="2" transform="rotate(0 121 491)" fill="url(#blobC)"/>
<ellipse cx="119.9" cy="502.2" rx="5" ry="5" transform="rotate(0 119.9 502.2)" fill="url(#glow)"/>
<ellipse cx="119.9" cy="502.2" rx="3.6" ry="3.6" transform="rotate(0 119.9 502.2)" fill="url(#blobG)"/>
<ellipse cx="127.1" cy="506.5" rx="5" ry="5.5" transform="rotate(0 127.1 506.5)" fill="url(#glow)"/>
<ellipse cx="127.1" cy="506.5" rx="3.4" ry="4.2" transform="rotate(0 127.1 506.5)" fill="url(#blobA)"/>
<ellipse cx="123.6" cy="511.5" rx="1.8" ry="1.8" transform="rotate(0 123.6 511.5)" fill="url(#blobC)"/>
<ellipse cx="123.0" cy="518.9" rx="2.6" ry="2.8" transform="rotate(0 123.0 518.9)" fill="url(#blobC)"/>
<ellipse cx="124.2" cy="529.4" rx="2.4" ry="2.4" transform="rotate(0 124.2 529.4)" fill="url(#blobC)"/>
</g></g>
<rect x="144.80" y="508.20" width="8.00" height="21.80" fill="url(#cbar)" stroke="#2a2a2a" stroke-width="0.9" />
<line x1="191.60" y1="398.60" x2="191.60" y2="520.50" stroke="#231f20" stroke-width="1.15" />
<line x1="191.10" y1="520.50" x2="267.50" y2="520.50" stroke="#231f20" stroke-width="1.15" />
<line x1="189.40" y1="510.60" x2="191.60" y2="510.60" stroke="#231f20" stroke-width="1.15" />
<text x="186.10" y="511.90" font-size="8.20" letter-spacing="0.00" text-anchor="end" fill="#231f20" >0</text>
<line x1="189.40" y1="473.50" x2="191.60" y2="473.50" stroke="#231f20" stroke-width="1.15" />
<text x="186.10" y="479.10" font-size="8.20" letter-spacing="0.00" text-anchor="end" fill="#231f20" >0.1</text>
<line x1="189.40" y1="436.30" x2="191.60" y2="436.30" stroke="#231f20" stroke-width="1.15" />
<text x="186.10" y="439.00" font-size="8.20" letter-spacing="0.00" text-anchor="end" fill="#231f20" >0.2</text>
<line x1="189.40" y1="399.10" x2="191.60" y2="399.10" stroke="#231f20" stroke-width="1.15" />
<text x="186.10" y="401.90" font-size="8.20" letter-spacing="0.00" text-anchor="end" fill="#231f20" >0.3</text>
<line x1="193.80" y1="520.50" x2="193.80" y2="522.70" stroke="#231f20" stroke-width="1.15" />
<line x1="206.00" y1="520.50" x2="206.00" y2="522.70" stroke="#231f20" stroke-width="1.15" />
<line x1="218.20" y1="520.50" x2="218.20" y2="522.70" stroke="#231f20" stroke-width="1.15" />
<line x1="230.40" y1="520.50" x2="230.40" y2="522.70" stroke="#231f20" stroke-width="1.15" />
<line x1="242.60" y1="520.50" x2="242.60" y2="522.70" stroke="#231f20" stroke-width="1.15" />
<line x1="254.80" y1="520.50" x2="254.80" y2="522.70" stroke="#231f20" stroke-width="1.15" />
<line x1="267.00" y1="520.50" x2="267.00" y2="522.70" stroke="#231f20" stroke-width="1.15" />
<text x="193.80" y="533.20" font-size="8.00" letter-spacing="0.00" text-anchor="middle" fill="#231f20" >0</text>
<text x="255.00" y="533.20" font-size="8.00" letter-spacing="0.00" text-anchor="middle" fill="#231f20" >100</text>
<text x="226.30" y="541.00" font-size="9.00" letter-spacing="0.00" text-anchor="middle" fill="#231f20" >time (s)</text>
<text x="199.30" y="406.40" font-size="9.00" letter-spacing="0.00" text-anchor="start" fill="#231f20" >200AP 20Hz</text>
<line x1="199.80" y1="407.60" x2="208.50" y2="407.60" stroke="#231f20" stroke-width="1.1" />
<text transform="translate(165.3,494.3) rotate(-90)" font-size="8.7" fill="#231f20">DF<tspan font-size="7.5" dy="1.9">200</tspan><tspan font-size="8.7" dy="-1.9">/DFmax</tspan><tspan font-size="7.5" dy="1.9">NH</tspan><tspan font-size="5.0" dy="1.6">4</tspan><tspan font-size="7.5" dy="-1.6">Cl</tspan></text>
<path d="M192.70,509.37 L193.42,509.76 L194.13,510.05 L194.85,510.47 L195.57,510.40 L196.28,510.87 L197.00,509.84 L197.75,510.70 L198.50,511.62 L199.25,511.46 L200.00,512.06 L200.75,511.21 L201.50,511.96 L202.27,501.38 L203.03,491.53 L203.80,481.30 L204.57,470.25 L205.33,460.27 L206.10,450.09 L206.87,440.72 L207.63,430.24 L208.40,419.12 L209.45,422.22 L210.50,423.49 L211.32,429.36 L212.14,433.88 L212.96,438.90 L213.78,445.32 L214.60,449.59 L215.38,453.25 L216.15,457.98 L216.92,461.47 L217.70,464.31 L218.46,466.23 L219.21,466.63 L219.97,467.81 L220.73,468.13 L221.49,470.15 L222.24,470.78 L223.00,472.15 L223.79,473.48 L224.57,474.08 L225.36,475.59 L226.14,476.75 L226.93,478.15 L227.71,479.46 L228.50,481.22 L229.27,482.49 L230.04,482.50 L230.81,484.30 L231.58,484.67 L232.35,485.48 L233.12,487.05 L233.89,487.42 L234.66,488.04 L235.43,489.12 L236.20,490.29 L236.96,490.00 L237.72,491.91 L238.48,491.19 L239.24,492.83 L240.00,493.58 L240.76,493.05 L241.52,494.74 L242.28,494.77 L243.04,495.69 L243.80,495.51 L244.58,496.20 L245.37,497.02 L246.15,498.74 L246.93,498.31 L247.72,499.72 L248.50,500.60 L249.26,500.62 L250.03,499.78 L250.79,499.80 L251.55,500.03 L252.31,500.39 L253.07,499.45 L253.84,500.35 L254.60,500.42 L255.30,500.64 L256.00,499.62 L256.70,501.03 L257.40,499.97 L258.10,500.46 L258.80,500.97 L259.50,501.54 L260.20,500.87 L260.90,501.82 L261.60,501.43 L262.30,501.24 L263.08,501.63 L263.87,501.82 L264.65,502.06 L265.43,502.54 L266.22,503.68 L267.00,503.80" fill="none" stroke="#000" stroke-width="2.9" stroke-linejoin="round" stroke-linecap="round" />
<path d="M192.70,510.59 L193.40,511.39 L194.10,511.47 L194.80,511.77 L195.50,512.00 L196.20,514.08 L196.90,514.44 L197.67,514.79 L198.43,513.78 L199.20,514.34 L199.97,513.11 L200.73,513.94 L201.50,513.56 L202.28,510.23 L203.05,507.78 L203.82,505.36 L204.60,501.69 L205.37,501.12 L206.13,500.34 L206.90,497.98 L207.67,497.77 L208.43,496.25 L209.20,495.29 L209.97,494.71 L210.74,494.67 L211.51,496.53 L212.29,496.98 L213.06,496.70 L213.83,496.44 L214.60,497.09 L215.38,498.63 L216.15,498.61 L216.93,500.59 L217.70,500.53 L218.47,500.41 L219.25,501.99 L220.03,502.06 L220.80,503.87 L221.56,504.32 L222.33,504.03 L223.09,504.79 L223.85,505.40 L224.62,506.11 L225.38,506.95 L226.15,505.56 L226.91,506.72 L227.67,507.70 L228.44,507.61 L229.20,508.68 L229.91,507.73 L230.63,509.36 L231.34,508.70 L232.06,507.93 L232.77,509.08 L233.49,508.42 L234.20,508.24 L234.91,508.87 L235.63,508.23 L236.34,508.42 L237.06,509.78 L237.77,509.50 L238.49,508.18 L239.20,509.76 L239.98,509.59 L240.76,511.59 L241.54,514.09 L242.32,514.88 L243.10,515.61 L243.80,515.64 L244.50,515.54 L245.20,514.90 L245.90,516.53 L246.60,514.52 L247.30,515.15 L248.00,515.68 L248.70,514.86 L249.40,515.91 L250.10,514.32 L250.80,515.68 L251.50,515.38 L252.20,514.94 L252.91,515.38 L253.61,514.49 L254.32,515.26 L255.02,515.19 L255.73,514.63 L256.43,514.54 L257.14,515.01 L257.84,514.42 L258.55,513.77 L259.25,515.09 L259.95,514.13 L260.66,514.58 L261.36,515.17 L262.07,513.94 L262.77,513.64 L263.48,513.85 L264.18,514.78 L264.89,514.32 L265.59,514.11 L266.30,514.50 L267.00,514.60" fill="none" stroke="#d01818" stroke-width="2.4" stroke-linejoin="round" stroke-linecap="round" />
<line x1="318.30" y1="401.30" x2="318.30" y2="520.50" stroke="#231f20" stroke-width="1.15" />
<line x1="317.80" y1="520.30" x2="375.30" y2="520.30" stroke="#231f20" stroke-width="1.15" />
<line x1="316.10" y1="480.25" x2="318.30" y2="480.25" stroke="#231f20" stroke-width="1.15" />
<text x="314.50" y="483.35" font-size="8.70" letter-spacing="0.00" text-anchor="end" fill="#231f20" >0.1</text>
<line x1="316.10" y1="440.90" x2="318.30" y2="440.90" stroke="#231f20" stroke-width="1.15" />
<text x="314.50" y="444.00" font-size="8.70" letter-spacing="0.00" text-anchor="end" fill="#231f20" >0.2</text>
<line x1="316.10" y1="401.55" x2="318.30" y2="401.55" stroke="#231f20" stroke-width="1.15" />
<text x="314.50" y="404.65" font-size="8.70" letter-spacing="0.00" text-anchor="end" fill="#231f20" >0.3</text>
<text x="314.50" y="515.30" font-size="8.70" letter-spacing="0.00" text-anchor="end" fill="#231f20" >0</text>
<line x1="332.30" y1="423.10" x2="332.30" y2="433.00" stroke="#231f20" stroke-width="1" />
<line x1="330.70" y1="423.10" x2="333.90" y2="423.10" stroke="#231f20" stroke-width="1" />
<rect x="321.80" y="432.80" width="21.00" height="87.50" fill="#000" stroke="none" stroke-width="0" />
<line x1="358.00" y1="486.00" x2="358.00" y2="500.50" stroke="#333" stroke-width="1.1" />
<line x1="356.40" y1="486.00" x2="359.60" y2="486.00" stroke="#333" stroke-width="1.0" />
<rect x="347.60" y="500.20" width="20.80" height="20.10" fill="#d52b12" stroke="#3a0a05" stroke-width="1.0" />
<line x1="331.50" y1="408.80" x2="359.20" y2="408.80" stroke="#231f20" stroke-width="1.1" />
<text x="345.00" y="409.20" font-size="12.8" text-anchor="middle" fill="#231f20" stroke-width="0.55">**</text>
<text x="333.15" y="532.90" font-size="8.6" text-anchor="middle" fill="#231f20" >WT</text>
<text x="357.20" y="532.90" font-size="8.6" text-anchor="middle" fill="#231f20" >α2 KD</text>
<text transform="translate(297.0,495.3) rotate(-90)" font-size="8.7" fill="#231f20">DF<tspan font-size="7.5" dy="1.9">200</tspan><tspan font-size="8.7" dy="-1.9">/DFmax</tspan><tspan font-size="7.5" dy="1.9">NH</tspan><tspan font-size="5.0" dy="1.6">4</tspan><tspan font-size="7.5" dy="-1.6">Cl</tspan></text>
<line x1="408.60" y1="387.50" x2="408.60" y2="520.80" stroke="#231f20" stroke-width="1.15" />
<line x1="408.10" y1="520.30" x2="515.50" y2="520.30" stroke="#231f20" stroke-width="1.15" />
<line x1="406.40" y1="505.54" x2="408.60" y2="505.54" stroke="#231f20" stroke-width="1.15" />
<text x="404.00" y="508.24" font-size="7.60" letter-spacing="0.00" text-anchor="end" fill="#231f20" >2</text>
<line x1="406.40" y1="490.79" x2="408.60" y2="490.79" stroke="#231f20" stroke-width="1.15" />
<text x="404.00" y="493.49" font-size="7.60" letter-spacing="0.00" text-anchor="end" fill="#231f20" >4</text>
<line x1="406.40" y1="476.03" x2="408.60" y2="476.03" stroke="#231f20" stroke-width="1.15" />
<text x="404.00" y="478.73" font-size="7.60" letter-spacing="0.00" text-anchor="end" fill="#231f20" >6</text>
<line x1="406.40" y1="461.28" x2="408.60" y2="461.28" stroke="#231f20" stroke-width="1.15" />
<text x="404.00" y="463.98" font-size="7.60" letter-spacing="0.00" text-anchor="end" fill="#231f20" >8</text>
<line x1="406.40" y1="446.52" x2="408.60" y2="446.52" stroke="#231f20" stroke-width="1.15" />
<text x="404.00" y="449.22" font-size="7.60" letter-spacing="0.00" text-anchor="end" fill="#231f20" >10</text>
<line x1="406.40" y1="431.77" x2="408.60" y2="431.77" stroke="#231f20" stroke-width="1.15" />
<text x="404.00" y="434.47" font-size="7.60" letter-spacing="0.00" text-anchor="end" fill="#231f20" >12</text>
<line x1="406.40" y1="417.01" x2="408.60" y2="417.01" stroke="#231f20" stroke-width="1.15" />
<text x="404.00" y="419.71" font-size="7.60" letter-spacing="0.00" text-anchor="end" fill="#231f20" >14</text>
<line x1="406.40" y1="402.26" x2="408.60" y2="402.26" stroke="#231f20" stroke-width="1.15" />
<text x="404.00" y="404.96" font-size="7.60" letter-spacing="0.00" text-anchor="end" fill="#231f20" >16</text>
<line x1="406.40" y1="387.50" x2="408.60" y2="387.50" stroke="#231f20" stroke-width="1.15" />
<text x="404.00" y="390.20" font-size="7.60" letter-spacing="0.00" text-anchor="end" fill="#231f20" >18</text>
<text x="400.30" y="533.00" font-size="8.00" letter-spacing="0.00" text-anchor="middle" fill="#231f20" >0</text>
<line x1="408.60" y1="520.30" x2="408.60" y2="522.30" stroke="#231f20" stroke-width="1.15" />
<line x1="429.20" y1="520.30" x2="429.20" y2="522.30" stroke="#231f20" stroke-width="1.15" />
<line x1="451.10" y1="520.30" x2="451.10" y2="522.30" stroke="#231f20" stroke-width="1.15" />
<line x1="472.40" y1="520.30" x2="472.40" y2="522.30" stroke="#231f20" stroke-width="1.15" />
<line x1="494.30" y1="520.30" x2="494.30" y2="522.30" stroke="#231f20" stroke-width="1.15" />
<line x1="516.20" y1="520.30" x2="516.20" y2="522.30" stroke="#231f20" stroke-width="1.15" />
<text x="411.80" y="533.00" font-size="8.00" letter-spacing="0.00" text-anchor="middle" fill="#231f20" >-0.2</text>
<text x="428.10" y="533.00" font-size="8.00" letter-spacing="0.00" text-anchor="middle" fill="#231f20" >0</text>
<text x="450.90" y="533.00" font-size="8.00" letter-spacing="0.00" text-anchor="middle" fill="#231f20" >0.2</text>
<text x="472.50" y="533.00" font-size="8.00" letter-spacing="0.00" text-anchor="middle" fill="#231f20" >0.4</text>
<text x="493.00" y="533.00" font-size="8.00" letter-spacing="0.00" text-anchor="middle" fill="#231f20" >0.6</text>
<text x="512.80" y="533.00" font-size="8.00" letter-spacing="0.00" text-anchor="middle" fill="#231f20" >0.8</text>
<g transform="translate(392.30,451.00) rotate(-90)"><text x="0.14" y="0" font-size="8.37" letter-spacing="0.27" text-anchor="middle" fill="#231f20">nr. of boutons</text></g>
<text x="425.4" y="543.8" font-size="8.9" fill="#231f20">DF<tspan font-size="7.7" dy="2.4">200</tspan><tspan font-size="8.9" dy="-2.4">/DFmax</tspan><tspan font-size="7.7" dy="2.4">NH</tspan><tspan font-size="5.2" dy="1.6">4</tspan><tspan font-size="7.7" dy="-1.6">Cl</tspan></text>
<rect x="421.60" y="512.92" width="1.20" height="7.38" fill="#f07050" stroke="#9a3020" stroke-width="0.55" />
<rect x="424.40" y="490.79" width="1.20" height="29.51" fill="#f07050" stroke="#9a3020" stroke-width="0.55" />
<rect x="427.10" y="431.77" width="1.20" height="88.53" fill="#f07050" stroke="#9a3020" stroke-width="0.55" />
<rect x="429.80" y="417.01" width="1.20" height="103.29" fill="#f07050" stroke="#9a3020" stroke-width="0.55" />
<rect x="432.60" y="402.26" width="1.20" height="118.04" fill="#f07050" stroke="#9a3020" stroke-width="0.55" />
<rect x="435.40" y="439.14" width="1.20" height="81.16" fill="#f07050" stroke="#9a3020" stroke-width="0.55" />
<rect x="438.10" y="446.52" width="1.20" height="73.78" fill="#f07050" stroke="#9a3020" stroke-width="0.55" />
<rect x="440.90" y="483.41" width="1.20" height="36.89" fill="#f07050" stroke="#9a3020" stroke-width="0.55" />
<rect x="443.70" y="490.79" width="1.20" height="29.51" fill="#f07050" stroke="#9a3020" stroke-width="0.55" />
<rect x="446.40" y="490.79" width="1.20" height="29.51" fill="#f07050" stroke="#9a3020" stroke-width="0.55" />
<rect x="449.20" y="498.17" width="1.20" height="22.13" fill="#f07050" stroke="#9a3020" stroke-width="0.55" />
<rect x="452.00" y="505.54" width="1.20" height="14.76" fill="#f07050" stroke="#9a3020" stroke-width="0.55" />
<rect x="454.70" y="505.54" width="1.20" height="14.76" fill="#f07050" stroke="#9a3020" stroke-width="0.55" />
<rect x="457.40" y="512.92" width="1.20" height="7.38" fill="#f07050" stroke="#9a3020" stroke-width="0.55" />
<rect x="460.20" y="512.92" width="1.20" height="7.38" fill="#f07050" stroke="#9a3020" stroke-width="0.55" />
<rect x="430.30" y="512.92" width="1.40" height="7.38" fill="#1a1a1a" stroke="none" stroke-width="0" opacity="0.9"/>
<rect x="432.80" y="512.92" width="1.40" height="7.38" fill="#1a1a1a" stroke="none" stroke-width="0" opacity="0.9"/>
<rect x="435.60" y="505.54" width="1.40" height="14.76" fill="#1a1a1a" stroke="none" stroke-width="0" opacity="0.9"/>
<rect x="438.30" y="483.41" width="1.40" height="36.89" fill="#1a1a1a" stroke="none" stroke-width="0" opacity="0.9"/>
<rect x="441.10" y="439.14" width="1.40" height="81.16" fill="#1a1a1a" stroke="none" stroke-width="0" opacity="0.9"/>
<rect x="443.90" y="439.14" width="1.40" height="81.16" fill="#1a1a1a" stroke="none" stroke-width="0" opacity="0.9"/>
<rect x="446.80" y="431.77" width="1.40" height="88.53" fill="#1a1a1a" stroke="none" stroke-width="0" opacity="0.9"/>
<rect x="449.50" y="439.14" width="1.40" height="81.16" fill="#1a1a1a" stroke="none" stroke-width="0" opacity="0.9"/>
<rect x="452.30" y="453.90" width="1.40" height="66.40" fill="#1a1a1a" stroke="none" stroke-width="0" opacity="0.9"/>
<rect x="454.90" y="461.28" width="1.40" height="59.02" fill="#1a1a1a" stroke="none" stroke-width="0" opacity="0.9"/>
<rect x="457.80" y="439.14" width="1.40" height="81.16" fill="#1a1a1a" stroke="none" stroke-width="0" opacity="0.9"/>
<rect x="460.40" y="490.79" width="1.40" height="29.51" fill="#1a1a1a" stroke="none" stroke-width="0" opacity="0.9"/>
<rect x="463.20" y="498.17" width="1.40" height="22.13" fill="#1a1a1a" stroke="none" stroke-width="0" opacity="0.9"/>
<rect x="465.90" y="512.92" width="1.40" height="7.38" fill="#1a1a1a" stroke="none" stroke-width="0" opacity="0.9"/>
<rect x="468.60" y="490.79" width="1.40" height="29.51" fill="#1a1a1a" stroke="none" stroke-width="0" opacity="0.9"/>
<rect x="471.30" y="490.79" width="1.40" height="29.51" fill="#1a1a1a" stroke="none" stroke-width="0" opacity="0.9"/>
<rect x="473.90" y="505.54" width="1.40" height="14.76" fill="#1a1a1a" stroke="none" stroke-width="0" opacity="0.9"/>
<rect x="476.50" y="498.17" width="1.40" height="22.13" fill="#1a1a1a" stroke="none" stroke-width="0" opacity="0.9"/>
<rect x="479.20" y="505.54" width="1.40" height="14.76" fill="#1a1a1a" stroke="none" stroke-width="0" opacity="0.9"/>
<rect x="481.80" y="490.79" width="1.40" height="29.51" fill="#1a1a1a" stroke="none" stroke-width="0" opacity="0.9"/>
<rect x="487.10" y="512.92" width="1.40" height="7.38" fill="#1a1a1a" stroke="none" stroke-width="0" opacity="0.9"/>
<rect x="490.00" y="505.54" width="1.40" height="14.76" fill="#1a1a1a" stroke="none" stroke-width="0" opacity="0.9"/>
<rect x="492.70" y="512.92" width="1.40" height="7.38" fill="#1a1a1a" stroke="none" stroke-width="0" opacity="0.9"/>
<rect x="498.00" y="512.92" width="1.40" height="7.38" fill="#1a1a1a" stroke="none" stroke-width="0" opacity="0.9"/>
<rect x="500.60" y="512.92" width="1.40" height="7.38" fill="#1a1a1a" stroke="none" stroke-width="0" opacity="0.9"/>
<rect x="503.20" y="512.92" width="1.40" height="7.38" fill="#1a1a1a" stroke="none" stroke-width="0" opacity="0.9"/>
<rect x="505.80" y="512.92" width="1.40" height="7.38" fill="#1a1a1a" stroke="none" stroke-width="0" opacity="0.9"/>
<rect x="511.60" y="512.92" width="1.40" height="7.38" fill="#1a1a1a" stroke="none" stroke-width="0" opacity="0.9"/>
<rect x="514.30" y="512.92" width="1.40" height="7.38" fill="#1a1a1a" stroke="none" stroke-width="0" opacity="0.9"/>
</svg></body></html>
